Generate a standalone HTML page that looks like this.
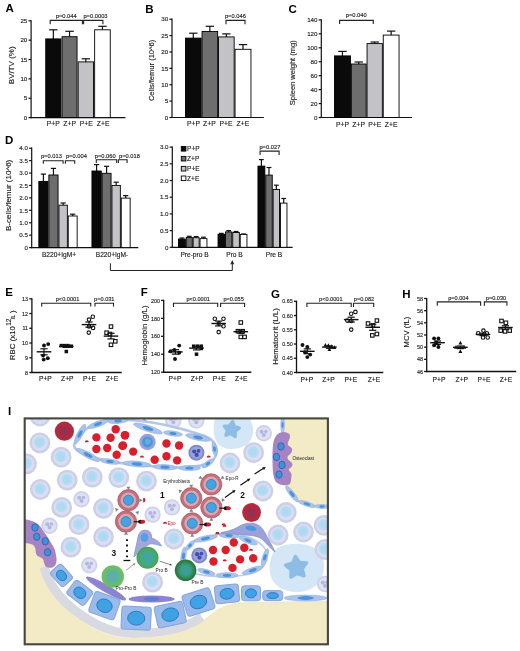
<!DOCTYPE html>
<html><head><meta charset="utf-8"><title>Figure</title>
<style>
html,body{margin:0;padding:0;background:#fff;}
body{width:520px;height:651px;overflow:hidden;}
svg{display:block;font-family:"Liberation Sans", sans-serif;will-change:transform;}
</style></head><body>
<svg width="520" height="651" viewBox="0 0 520 651">
<text x="5.50" y="12.10" font-size="11.5" font-weight="bold" fill="#000">A</text>
<line x1="31.10" y1="118.20" x2="31.10" y2="20.20" stroke="#111" stroke-width="1.2"/>
<line x1="28.50" y1="117.60" x2="31.10" y2="117.60" stroke="#111" stroke-width="1.2"/>
<text x="27.30" y="119.83" font-size="6.2" text-anchor="end" fill="#1c1c1c" stroke="#1c1c1c" stroke-width="0.14">0</text>
<line x1="28.50" y1="98.24" x2="31.10" y2="98.24" stroke="#111" stroke-width="1.2"/>
<text x="27.30" y="100.47" font-size="6.2" text-anchor="end" fill="#1c1c1c" stroke="#1c1c1c" stroke-width="0.14">5</text>
<line x1="28.50" y1="78.88" x2="31.10" y2="78.88" stroke="#111" stroke-width="1.2"/>
<text x="27.30" y="81.11" font-size="6.2" text-anchor="end" fill="#1c1c1c" stroke="#1c1c1c" stroke-width="0.14">10</text>
<line x1="28.50" y1="59.52" x2="31.10" y2="59.52" stroke="#111" stroke-width="1.2"/>
<text x="27.30" y="61.75" font-size="6.2" text-anchor="end" fill="#1c1c1c" stroke="#1c1c1c" stroke-width="0.14">15</text>
<line x1="28.50" y1="40.16" x2="31.10" y2="40.16" stroke="#111" stroke-width="1.2"/>
<text x="27.30" y="42.39" font-size="6.2" text-anchor="end" fill="#1c1c1c" stroke="#1c1c1c" stroke-width="0.14">20</text>
<line x1="28.50" y1="20.80" x2="31.10" y2="20.80" stroke="#111" stroke-width="1.2"/>
<text x="27.30" y="23.03" font-size="6.2" text-anchor="end" fill="#1c1c1c" stroke="#1c1c1c" stroke-width="0.14">25</text>
<line x1="30.50" y1="117.60" x2="125.40" y2="117.60" stroke="#111" stroke-width="1.2"/>
<line x1="53.35" y1="38.90" x2="53.35" y2="29.80" stroke="#111" stroke-width="1.2"/>
<line x1="49.15" y1="29.80" x2="57.55" y2="29.80" stroke="#111" stroke-width="1.2"/>
<rect x="45.75" y="38.90" width="15.20" height="78.70" fill="#0a0a0a" stroke="#000" stroke-width="0.9"/>
<line x1="69.55" y1="36.70" x2="69.55" y2="31.30" stroke="#111" stroke-width="1.2"/>
<line x1="65.35" y1="31.30" x2="73.75" y2="31.30" stroke="#111" stroke-width="1.2"/>
<rect x="62.05" y="36.70" width="15.00" height="80.90" fill="#6e6e6e" stroke="#000" stroke-width="0.9"/>
<line x1="85.80" y1="61.90" x2="85.80" y2="58.80" stroke="#111" stroke-width="1.2"/>
<line x1="81.60" y1="58.80" x2="90.00" y2="58.80" stroke="#111" stroke-width="1.2"/>
<rect x="78.15" y="61.90" width="15.30" height="55.70" fill="#c3c3c7" stroke="#000" stroke-width="0.9"/>
<line x1="102.45" y1="29.80" x2="102.45" y2="26.30" stroke="#111" stroke-width="1.2"/>
<line x1="98.25" y1="26.30" x2="106.65" y2="26.30" stroke="#111" stroke-width="1.2"/>
<rect x="94.65" y="29.80" width="15.60" height="87.80" fill="#ffffff" stroke="#000" stroke-width="0.9"/>
<path d="M50.20 24.20V20.40H82.40V24.20" fill="none" stroke="#222" stroke-width="1.1"/>
<path d="M83.60 24.20V20.40H102.90V24.20" fill="none" stroke="#222" stroke-width="1.1"/>
<text x="66.20" y="18.30" font-size="5.75" text-anchor="middle" fill="#1c1c1c" stroke="#1c1c1c" stroke-width="0.14">p=0.044</text>
<text x="95.50" y="18.30" font-size="5.75" text-anchor="middle" fill="#1c1c1c" stroke="#1c1c1c" stroke-width="0.14">p=0.0003</text>
<text x="53.20" y="125.60" font-size="6.8" text-anchor="middle" fill="#1a1a1a" stroke="#1a1a1a" stroke-width="0.14">P+P</text>
<text x="69.60" y="125.60" font-size="6.8" text-anchor="middle" fill="#1a1a1a" stroke="#1a1a1a" stroke-width="0.14">Z+P</text>
<text x="86.20" y="125.60" font-size="6.8" text-anchor="middle" fill="#1a1a1a" stroke="#1a1a1a" stroke-width="0.14">P+E</text>
<text x="103.10" y="125.60" font-size="6.8" text-anchor="middle" fill="#1a1a1a" stroke="#1a1a1a" stroke-width="0.14">Z+E</text>
<text x="13.70" y="65.30" font-size="8.0" text-anchor="middle" fill="#222" stroke="#222" stroke-width="0.14" transform="rotate(-90 13.70 65.30)">BV/TV (%)</text>
<text x="145.20" y="12.50" font-size="11.5" font-weight="bold" fill="#000">B</text>
<line x1="172.00" y1="118.10" x2="172.00" y2="18.60" stroke="#111" stroke-width="1.2"/>
<line x1="169.40" y1="117.50" x2="172.00" y2="117.50" stroke="#111" stroke-width="1.2"/>
<text x="168.20" y="119.73" font-size="6.2" text-anchor="end" fill="#1c1c1c" stroke="#1c1c1c" stroke-width="0.14">0</text>
<line x1="169.40" y1="101.12" x2="172.00" y2="101.12" stroke="#111" stroke-width="1.2"/>
<text x="168.20" y="103.35" font-size="6.2" text-anchor="end" fill="#1c1c1c" stroke="#1c1c1c" stroke-width="0.14">5</text>
<line x1="169.40" y1="84.73" x2="172.00" y2="84.73" stroke="#111" stroke-width="1.2"/>
<text x="168.20" y="86.97" font-size="6.2" text-anchor="end" fill="#1c1c1c" stroke="#1c1c1c" stroke-width="0.14">10</text>
<line x1="169.40" y1="68.35" x2="172.00" y2="68.35" stroke="#111" stroke-width="1.2"/>
<text x="168.20" y="70.58" font-size="6.2" text-anchor="end" fill="#1c1c1c" stroke="#1c1c1c" stroke-width="0.14">15</text>
<line x1="169.40" y1="51.97" x2="172.00" y2="51.97" stroke="#111" stroke-width="1.2"/>
<text x="168.20" y="54.20" font-size="6.2" text-anchor="end" fill="#1c1c1c" stroke="#1c1c1c" stroke-width="0.14">20</text>
<line x1="169.40" y1="35.58" x2="172.00" y2="35.58" stroke="#111" stroke-width="1.2"/>
<text x="168.20" y="37.82" font-size="6.2" text-anchor="end" fill="#1c1c1c" stroke="#1c1c1c" stroke-width="0.14">25</text>
<line x1="169.40" y1="19.20" x2="172.00" y2="19.20" stroke="#111" stroke-width="1.2"/>
<text x="168.20" y="21.43" font-size="6.2" text-anchor="end" fill="#1c1c1c" stroke="#1c1c1c" stroke-width="0.14">30</text>
<line x1="171.50" y1="117.50" x2="263.80" y2="117.50" stroke="#111" stroke-width="1.2"/>
<line x1="193.30" y1="38.10" x2="193.30" y2="33.20" stroke="#111" stroke-width="1.2"/>
<line x1="189.10" y1="33.20" x2="197.50" y2="33.20" stroke="#111" stroke-width="1.2"/>
<rect x="185.45" y="38.10" width="15.70" height="79.40" fill="#0a0a0a" stroke="#000" stroke-width="0.9"/>
<line x1="209.85" y1="31.50" x2="209.85" y2="26.30" stroke="#111" stroke-width="1.2"/>
<line x1="205.65" y1="26.30" x2="214.05" y2="26.30" stroke="#111" stroke-width="1.2"/>
<rect x="202.05" y="31.50" width="15.60" height="86.00" fill="#6e6e6e" stroke="#000" stroke-width="0.9"/>
<line x1="226.35" y1="36.90" x2="226.35" y2="33.90" stroke="#111" stroke-width="1.2"/>
<line x1="222.15" y1="33.90" x2="230.55" y2="33.90" stroke="#111" stroke-width="1.2"/>
<rect x="218.55" y="36.90" width="15.60" height="80.60" fill="#c3c3c7" stroke="#000" stroke-width="0.9"/>
<line x1="243.00" y1="49.30" x2="243.00" y2="44.60" stroke="#111" stroke-width="1.2"/>
<line x1="238.80" y1="44.60" x2="247.20" y2="44.60" stroke="#111" stroke-width="1.2"/>
<rect x="235.05" y="49.30" width="15.90" height="68.20" fill="#ffffff" stroke="#000" stroke-width="0.9"/>
<path d="M226.00 24.20V20.40H245.00V24.20" fill="none" stroke="#222" stroke-width="1.1"/>
<text x="235.40" y="18.20" font-size="5.75" text-anchor="middle" fill="#1c1c1c" stroke="#1c1c1c" stroke-width="0.14">p=0.046</text>
<text x="193.40" y="125.60" font-size="6.8" text-anchor="middle" fill="#1a1a1a" stroke="#1a1a1a" stroke-width="0.14">P+P</text>
<text x="209.40" y="125.60" font-size="6.8" text-anchor="middle" fill="#1a1a1a" stroke="#1a1a1a" stroke-width="0.14">Z+P</text>
<text x="226.00" y="125.60" font-size="6.8" text-anchor="middle" fill="#1a1a1a" stroke="#1a1a1a" stroke-width="0.14">P+E</text>
<text x="242.90" y="125.60" font-size="6.8" text-anchor="middle" fill="#1a1a1a" stroke="#1a1a1a" stroke-width="0.14">Z+E</text>
<text x="154.40" y="70.40" font-size="7.55" text-anchor="middle" fill="#222" stroke="#222" stroke-width="0.14" transform="rotate(-90 154.40 70.40)">Cells/femur (10^6)</text>
<text x="288.60" y="13.40" font-size="11.5" font-weight="bold" fill="#000">C</text>
<line x1="321.30" y1="118.10" x2="321.30" y2="19.30" stroke="#111" stroke-width="1.2"/>
<line x1="318.70" y1="117.50" x2="321.30" y2="117.50" stroke="#111" stroke-width="1.2"/>
<text x="317.50" y="119.73" font-size="6.2" text-anchor="end" fill="#1c1c1c" stroke="#1c1c1c" stroke-width="0.14">0</text>
<line x1="318.70" y1="103.56" x2="321.30" y2="103.56" stroke="#111" stroke-width="1.2"/>
<text x="317.50" y="105.79" font-size="6.2" text-anchor="end" fill="#1c1c1c" stroke="#1c1c1c" stroke-width="0.14">20</text>
<line x1="318.70" y1="89.61" x2="321.30" y2="89.61" stroke="#111" stroke-width="1.2"/>
<text x="317.50" y="91.85" font-size="6.2" text-anchor="end" fill="#1c1c1c" stroke="#1c1c1c" stroke-width="0.14">40</text>
<line x1="318.70" y1="75.67" x2="321.30" y2="75.67" stroke="#111" stroke-width="1.2"/>
<text x="317.50" y="77.90" font-size="6.2" text-anchor="end" fill="#1c1c1c" stroke="#1c1c1c" stroke-width="0.14">60</text>
<line x1="318.70" y1="61.73" x2="321.30" y2="61.73" stroke="#111" stroke-width="1.2"/>
<text x="317.50" y="63.96" font-size="6.2" text-anchor="end" fill="#1c1c1c" stroke="#1c1c1c" stroke-width="0.14">80</text>
<line x1="318.70" y1="47.79" x2="321.30" y2="47.79" stroke="#111" stroke-width="1.2"/>
<text x="317.50" y="50.02" font-size="6.2" text-anchor="end" fill="#1c1c1c" stroke="#1c1c1c" stroke-width="0.14">100</text>
<line x1="318.70" y1="33.84" x2="321.30" y2="33.84" stroke="#111" stroke-width="1.2"/>
<text x="317.50" y="36.07" font-size="6.2" text-anchor="end" fill="#1c1c1c" stroke="#1c1c1c" stroke-width="0.14">120</text>
<line x1="318.70" y1="19.90" x2="321.30" y2="19.90" stroke="#111" stroke-width="1.2"/>
<text x="317.50" y="22.13" font-size="6.2" text-anchor="end" fill="#1c1c1c" stroke="#1c1c1c" stroke-width="0.14">140</text>
<line x1="320.80" y1="117.50" x2="412.00" y2="117.50" stroke="#111" stroke-width="1.2"/>
<line x1="342.45" y1="55.90" x2="342.45" y2="51.40" stroke="#111" stroke-width="1.2"/>
<line x1="338.25" y1="51.40" x2="346.65" y2="51.40" stroke="#111" stroke-width="1.2"/>
<rect x="334.45" y="55.90" width="16.00" height="61.60" fill="#0a0a0a" stroke="#000" stroke-width="0.9"/>
<line x1="358.75" y1="64.00" x2="358.75" y2="62.00" stroke="#111" stroke-width="1.2"/>
<line x1="354.55" y1="62.00" x2="362.95" y2="62.00" stroke="#111" stroke-width="1.2"/>
<rect x="351.35" y="64.00" width="14.80" height="53.50" fill="#6e6e6e" stroke="#000" stroke-width="0.9"/>
<line x1="374.70" y1="43.60" x2="374.70" y2="42.00" stroke="#111" stroke-width="1.2"/>
<line x1="370.50" y1="42.00" x2="378.90" y2="42.00" stroke="#111" stroke-width="1.2"/>
<rect x="367.05" y="43.60" width="15.30" height="73.90" fill="#c3c3c7" stroke="#000" stroke-width="0.9"/>
<line x1="391.15" y1="35.10" x2="391.15" y2="31.10" stroke="#111" stroke-width="1.2"/>
<line x1="386.95" y1="31.10" x2="395.35" y2="31.10" stroke="#111" stroke-width="1.2"/>
<rect x="383.25" y="35.10" width="15.80" height="82.40" fill="#ffffff" stroke="#000" stroke-width="0.9"/>
<path d="M339.60 23.90V20.40H373.30V23.90" fill="none" stroke="#222" stroke-width="1.1"/>
<text x="356.20" y="17.40" font-size="5.75" text-anchor="middle" fill="#1c1c1c" stroke="#1c1c1c" stroke-width="0.14">p=0.040</text>
<text x="342.40" y="126.60" font-size="6.8" text-anchor="middle" fill="#1a1a1a" stroke="#1a1a1a" stroke-width="0.14">P+P</text>
<text x="358.70" y="126.60" font-size="6.8" text-anchor="middle" fill="#1a1a1a" stroke="#1a1a1a" stroke-width="0.14">Z+P</text>
<text x="374.70" y="126.60" font-size="6.8" text-anchor="middle" fill="#1a1a1a" stroke="#1a1a1a" stroke-width="0.14">P+E</text>
<text x="391.20" y="126.60" font-size="6.8" text-anchor="middle" fill="#1a1a1a" stroke="#1a1a1a" stroke-width="0.14">Z+E</text>
<text x="294.60" y="72.70" font-size="7.55" text-anchor="middle" fill="#222" stroke="#222" stroke-width="0.14" transform="rotate(-90 294.60 72.70)">Spleen weight (mg)</text>
<text x="5.00" y="143.80" font-size="11.5" font-weight="bold" fill="#000">D</text>
<line x1="31.70" y1="248.20" x2="31.70" y2="147.60" stroke="#111" stroke-width="1.2"/>
<line x1="29.10" y1="247.60" x2="31.70" y2="247.60" stroke="#111" stroke-width="1.2"/>
<text x="27.90" y="249.83" font-size="6.2" text-anchor="end" fill="#1c1c1c" stroke="#1c1c1c" stroke-width="0.14">0</text>
<line x1="29.10" y1="235.17" x2="31.70" y2="235.17" stroke="#111" stroke-width="1.2"/>
<text x="27.90" y="237.41" font-size="6.2" text-anchor="end" fill="#1c1c1c" stroke="#1c1c1c" stroke-width="0.14">0.5</text>
<line x1="29.10" y1="222.75" x2="31.70" y2="222.75" stroke="#111" stroke-width="1.2"/>
<text x="27.90" y="224.98" font-size="6.2" text-anchor="end" fill="#1c1c1c" stroke="#1c1c1c" stroke-width="0.14">1.0</text>
<line x1="29.10" y1="210.32" x2="31.70" y2="210.32" stroke="#111" stroke-width="1.2"/>
<text x="27.90" y="212.56" font-size="6.2" text-anchor="end" fill="#1c1c1c" stroke="#1c1c1c" stroke-width="0.14">1.5</text>
<line x1="29.10" y1="197.90" x2="31.70" y2="197.90" stroke="#111" stroke-width="1.2"/>
<text x="27.90" y="200.13" font-size="6.2" text-anchor="end" fill="#1c1c1c" stroke="#1c1c1c" stroke-width="0.14">2.0</text>
<line x1="29.10" y1="185.47" x2="31.70" y2="185.47" stroke="#111" stroke-width="1.2"/>
<text x="27.90" y="187.71" font-size="6.2" text-anchor="end" fill="#1c1c1c" stroke="#1c1c1c" stroke-width="0.14">2.5</text>
<line x1="29.10" y1="173.05" x2="31.70" y2="173.05" stroke="#111" stroke-width="1.2"/>
<text x="27.90" y="175.28" font-size="6.2" text-anchor="end" fill="#1c1c1c" stroke="#1c1c1c" stroke-width="0.14">3.0</text>
<line x1="29.10" y1="160.62" x2="31.70" y2="160.62" stroke="#111" stroke-width="1.2"/>
<text x="27.90" y="162.86" font-size="6.2" text-anchor="end" fill="#1c1c1c" stroke="#1c1c1c" stroke-width="0.14">3.5</text>
<line x1="29.10" y1="148.20" x2="31.70" y2="148.20" stroke="#111" stroke-width="1.2"/>
<text x="27.90" y="150.43" font-size="6.2" text-anchor="end" fill="#1c1c1c" stroke="#1c1c1c" stroke-width="0.14">4.0</text>
<line x1="31.20" y1="247.60" x2="138.30" y2="247.60" stroke="#111" stroke-width="1.2"/>
<line x1="43.40" y1="181.40" x2="43.40" y2="174.10" stroke="#111" stroke-width="1.2"/>
<line x1="40.80" y1="174.10" x2="46.00" y2="174.10" stroke="#111" stroke-width="1.2"/>
<rect x="38.85" y="181.40" width="9.10" height="66.20" fill="#0a0a0a" stroke="#000" stroke-width="0.9"/>
<line x1="53.45" y1="175.00" x2="53.45" y2="168.40" stroke="#111" stroke-width="1.2"/>
<line x1="50.85" y1="168.40" x2="56.05" y2="168.40" stroke="#111" stroke-width="1.2"/>
<rect x="48.85" y="175.00" width="9.20" height="72.60" fill="#6e6e6e" stroke="#000" stroke-width="0.9"/>
<line x1="63.15" y1="205.20" x2="63.15" y2="203.00" stroke="#111" stroke-width="1.2"/>
<line x1="60.55" y1="203.00" x2="65.75" y2="203.00" stroke="#111" stroke-width="1.2"/>
<rect x="58.95" y="205.20" width="8.40" height="42.40" fill="#c3c3c7" stroke="#000" stroke-width="0.9"/>
<line x1="72.70" y1="216.00" x2="72.70" y2="214.20" stroke="#111" stroke-width="1.2"/>
<line x1="70.10" y1="214.20" x2="75.30" y2="214.20" stroke="#111" stroke-width="1.2"/>
<rect x="68.25" y="216.00" width="8.90" height="31.60" fill="#ffffff" stroke="#000" stroke-width="0.9"/>
<line x1="96.60" y1="171.00" x2="96.60" y2="164.60" stroke="#111" stroke-width="1.2"/>
<line x1="94.00" y1="164.60" x2="99.20" y2="164.60" stroke="#111" stroke-width="1.2"/>
<rect x="91.95" y="171.00" width="9.30" height="76.60" fill="#0a0a0a" stroke="#000" stroke-width="0.9"/>
<line x1="106.60" y1="173.30" x2="106.60" y2="166.30" stroke="#111" stroke-width="1.2"/>
<line x1="104.00" y1="166.30" x2="109.20" y2="166.30" stroke="#111" stroke-width="1.2"/>
<rect x="102.15" y="173.30" width="8.90" height="74.30" fill="#6e6e6e" stroke="#000" stroke-width="0.9"/>
<line x1="116.15" y1="185.40" x2="116.15" y2="182.20" stroke="#111" stroke-width="1.2"/>
<line x1="113.55" y1="182.20" x2="118.75" y2="182.20" stroke="#111" stroke-width="1.2"/>
<rect x="111.95" y="185.40" width="8.40" height="62.20" fill="#c3c3c7" stroke="#000" stroke-width="0.9"/>
<line x1="125.70" y1="198.10" x2="125.70" y2="195.60" stroke="#111" stroke-width="1.2"/>
<line x1="123.10" y1="195.60" x2="128.30" y2="195.60" stroke="#111" stroke-width="1.2"/>
<rect x="121.25" y="198.10" width="8.90" height="49.50" fill="#ffffff" stroke="#000" stroke-width="0.9"/>
<path d="M43.30 163.80V160.80H63.10V163.80" fill="none" stroke="#222" stroke-width="1.1"/>
<path d="M65.40 163.80V160.80H74.70V163.80" fill="none" stroke="#222" stroke-width="1.1"/>
<path d="M96.30 163.00V159.80H116.70V163.00" fill="none" stroke="#222" stroke-width="1.1"/>
<path d="M118.40 163.00V159.80H127.10V163.00" fill="none" stroke="#222" stroke-width="1.1"/>
<text x="51.40" y="158.00" font-size="5.75" text-anchor="middle" fill="#1c1c1c" stroke="#1c1c1c" stroke-width="0.14">p=0.013</text>
<text x="76.40" y="158.00" font-size="5.75" text-anchor="middle" fill="#1c1c1c" stroke="#1c1c1c" stroke-width="0.14">p=0.004</text>
<text x="105.20" y="157.80" font-size="5.75" text-anchor="middle" fill="#1c1c1c" stroke="#1c1c1c" stroke-width="0.14">p=0.060</text>
<text x="129.50" y="157.80" font-size="5.75" text-anchor="middle" fill="#1c1c1c" stroke="#1c1c1c" stroke-width="0.14">p=0.018</text>
<text x="59.00" y="257.30" font-size="6.6" text-anchor="middle" fill="#1a1a1a" stroke="#1a1a1a" stroke-width="0.14">B220+IgM+</text>
<text x="112.00" y="257.30" font-size="6.6" text-anchor="middle" fill="#1a1a1a" stroke="#1a1a1a" stroke-width="0.14">B220+IgM-</text>
<text x="10.70" y="195.40" font-size="8.0" text-anchor="middle" fill="#222" stroke="#222" stroke-width="0.14" transform="rotate(-90 10.70 195.40)">B-cells/femur (10^6)</text>
<line x1="172.30" y1="247.90" x2="172.30" y2="146.50" stroke="#111" stroke-width="1.2"/>
<line x1="169.70" y1="247.30" x2="172.30" y2="247.30" stroke="#111" stroke-width="1.2"/>
<text x="168.50" y="249.53" font-size="6.2" text-anchor="end" fill="#1c1c1c" stroke="#1c1c1c" stroke-width="0.14">0</text>
<line x1="169.70" y1="230.60" x2="172.30" y2="230.60" stroke="#111" stroke-width="1.2"/>
<text x="168.50" y="232.83" font-size="6.2" text-anchor="end" fill="#1c1c1c" stroke="#1c1c1c" stroke-width="0.14">0.5</text>
<line x1="169.70" y1="213.90" x2="172.30" y2="213.90" stroke="#111" stroke-width="1.2"/>
<text x="168.50" y="216.13" font-size="6.2" text-anchor="end" fill="#1c1c1c" stroke="#1c1c1c" stroke-width="0.14">1.0</text>
<line x1="169.70" y1="197.20" x2="172.30" y2="197.20" stroke="#111" stroke-width="1.2"/>
<text x="168.50" y="199.43" font-size="6.2" text-anchor="end" fill="#1c1c1c" stroke="#1c1c1c" stroke-width="0.14">1.5</text>
<line x1="169.70" y1="180.50" x2="172.30" y2="180.50" stroke="#111" stroke-width="1.2"/>
<text x="168.50" y="182.73" font-size="6.2" text-anchor="end" fill="#1c1c1c" stroke="#1c1c1c" stroke-width="0.14">2.0</text>
<line x1="169.70" y1="163.80" x2="172.30" y2="163.80" stroke="#111" stroke-width="1.2"/>
<text x="168.50" y="166.03" font-size="6.2" text-anchor="end" fill="#1c1c1c" stroke="#1c1c1c" stroke-width="0.14">2.5</text>
<line x1="169.70" y1="147.10" x2="172.30" y2="147.10" stroke="#111" stroke-width="1.2"/>
<text x="168.50" y="149.33" font-size="6.2" text-anchor="end" fill="#1c1c1c" stroke="#1c1c1c" stroke-width="0.14">3.0</text>
<line x1="171.80" y1="247.30" x2="292.60" y2="247.30" stroke="#111" stroke-width="1.2"/>
<line x1="181.90" y1="239.10" x2="181.90" y2="238.00" stroke="#111" stroke-width="1.2"/>
<line x1="179.50" y1="238.00" x2="184.30" y2="238.00" stroke="#111" stroke-width="1.2"/>
<rect x="178.45" y="239.10" width="6.90" height="8.20" fill="#0a0a0a" stroke="#000" stroke-width="0.9"/>
<line x1="189.25" y1="237.40" x2="189.25" y2="236.30" stroke="#111" stroke-width="1.2"/>
<line x1="186.85" y1="236.30" x2="191.65" y2="236.30" stroke="#111" stroke-width="1.2"/>
<rect x="186.25" y="237.40" width="6.00" height="9.90" fill="#6e6e6e" stroke="#000" stroke-width="0.9"/>
<line x1="196.15" y1="237.70" x2="196.15" y2="236.60" stroke="#111" stroke-width="1.2"/>
<line x1="193.75" y1="236.60" x2="198.55" y2="236.60" stroke="#111" stroke-width="1.2"/>
<rect x="193.15" y="237.70" width="6.00" height="9.60" fill="#c3c3c7" stroke="#000" stroke-width="0.9"/>
<line x1="203.50" y1="238.60" x2="203.50" y2="237.20" stroke="#111" stroke-width="1.2"/>
<line x1="201.10" y1="237.20" x2="205.90" y2="237.20" stroke="#111" stroke-width="1.2"/>
<rect x="200.05" y="238.60" width="6.90" height="8.70" fill="#ffffff" stroke="#000" stroke-width="0.9"/>
<line x1="221.30" y1="234.30" x2="221.30" y2="233.40" stroke="#111" stroke-width="1.2"/>
<line x1="218.90" y1="233.40" x2="223.70" y2="233.40" stroke="#111" stroke-width="1.2"/>
<rect x="218.05" y="234.30" width="6.50" height="13.00" fill="#0a0a0a" stroke="#000" stroke-width="0.9"/>
<line x1="228.65" y1="231.90" x2="228.65" y2="230.60" stroke="#111" stroke-width="1.2"/>
<line x1="226.25" y1="230.60" x2="231.05" y2="230.60" stroke="#111" stroke-width="1.2"/>
<rect x="225.45" y="231.90" width="6.40" height="15.40" fill="#6e6e6e" stroke="#000" stroke-width="0.9"/>
<line x1="236.05" y1="232.50" x2="236.05" y2="231.50" stroke="#111" stroke-width="1.2"/>
<line x1="233.65" y1="231.50" x2="238.45" y2="231.50" stroke="#111" stroke-width="1.2"/>
<rect x="232.75" y="232.50" width="6.60" height="14.80" fill="#c3c3c7" stroke="#000" stroke-width="0.9"/>
<line x1="243.60" y1="234.40" x2="243.60" y2="234.00" stroke="#111" stroke-width="1.2"/>
<line x1="241.20" y1="234.00" x2="246.00" y2="234.00" stroke="#111" stroke-width="1.2"/>
<rect x="240.25" y="234.40" width="6.70" height="12.90" fill="#ffffff" stroke="#000" stroke-width="0.9"/>
<line x1="261.40" y1="166.10" x2="261.40" y2="159.60" stroke="#111" stroke-width="1.2"/>
<line x1="259.00" y1="159.60" x2="263.80" y2="159.60" stroke="#111" stroke-width="1.2"/>
<rect x="257.95" y="166.10" width="6.90" height="81.20" fill="#0a0a0a" stroke="#000" stroke-width="0.9"/>
<line x1="269.00" y1="175.10" x2="269.00" y2="167.50" stroke="#111" stroke-width="1.2"/>
<line x1="266.60" y1="167.50" x2="271.40" y2="167.50" stroke="#111" stroke-width="1.2"/>
<rect x="265.75" y="175.10" width="6.50" height="72.20" fill="#6e6e6e" stroke="#000" stroke-width="0.9"/>
<line x1="276.35" y1="189.50" x2="276.35" y2="185.20" stroke="#111" stroke-width="1.2"/>
<line x1="273.95" y1="185.20" x2="278.75" y2="185.20" stroke="#111" stroke-width="1.2"/>
<rect x="273.15" y="189.50" width="6.40" height="57.80" fill="#c3c3c7" stroke="#000" stroke-width="0.9"/>
<line x1="283.70" y1="203.10" x2="283.70" y2="198.50" stroke="#111" stroke-width="1.2"/>
<line x1="281.30" y1="198.50" x2="286.10" y2="198.50" stroke="#111" stroke-width="1.2"/>
<rect x="280.45" y="203.10" width="6.50" height="44.20" fill="#ffffff" stroke="#000" stroke-width="0.9"/>
<path d="M260.10 154.90V151.10H279.10V154.90" fill="none" stroke="#222" stroke-width="1.1"/>
<text x="269.90" y="148.80" font-size="5.75" text-anchor="middle" fill="#1c1c1c" stroke="#1c1c1c" stroke-width="0.14">p=0.027</text>
<rect x="181.30" y="146.50" width="4.60" height="4.60" fill="#0a0a0a" stroke="#000" stroke-width="0.9"/>
<text x="187.00" y="151.20" font-size="6.6" fill="#1a1a1a" stroke="#1a1a1a" stroke-width="0.14">P+P</text>
<rect x="181.30" y="156.40" width="4.60" height="4.60" fill="#6e6e6e" stroke="#000" stroke-width="0.9"/>
<text x="187.00" y="161.10" font-size="6.6" fill="#1a1a1a" stroke="#1a1a1a" stroke-width="0.14">Z+P</text>
<rect x="181.30" y="166.40" width="4.60" height="4.60" fill="#c3c3c7" stroke="#000" stroke-width="0.9"/>
<text x="187.00" y="171.10" font-size="6.6" fill="#1a1a1a" stroke="#1a1a1a" stroke-width="0.14">P+E</text>
<rect x="181.30" y="176.00" width="4.60" height="4.60" fill="#ffffff" stroke="#000" stroke-width="0.9"/>
<text x="187.00" y="180.70" font-size="6.6" fill="#1a1a1a" stroke="#1a1a1a" stroke-width="0.14">Z+E</text>
<text x="194.50" y="257.30" font-size="6.6" text-anchor="middle" fill="#1a1a1a" stroke="#1a1a1a" stroke-width="0.14">Pre-pro B</text>
<text x="234.50" y="257.30" font-size="6.6" text-anchor="middle" fill="#1a1a1a" stroke="#1a1a1a" stroke-width="0.14">Pro B</text>
<text x="274.00" y="257.30" font-size="6.6" text-anchor="middle" fill="#1a1a1a" stroke="#1a1a1a" stroke-width="0.14">Pre B</text>
<path d="M110.4 263.3V270.5H232.3V263.5" fill="none" stroke="#222" stroke-width="1"/>
<path d="M232.3 260.0L230.4 264.2H234.2Z" fill="#222"/>
<text x="5.30" y="295.80" font-size="11.5" font-weight="bold" fill="#000">E</text>
<line x1="31.90" y1="373.10" x2="31.90" y2="298.20" stroke="#111" stroke-width="1.3"/>
<line x1="29.30" y1="372.50" x2="31.90" y2="372.50" stroke="#111" stroke-width="1.3"/>
<text transform="translate(28.10 374.66) scale(0.9 1)" font-size="6.0" text-anchor="end" fill="#1c1c1c" stroke="#1c1c1c" stroke-width="0.14">8</text>
<line x1="29.30" y1="357.76" x2="31.90" y2="357.76" stroke="#111" stroke-width="1.3"/>
<text transform="translate(28.10 359.92) scale(0.9 1)" font-size="6.0" text-anchor="end" fill="#1c1c1c" stroke="#1c1c1c" stroke-width="0.14">9</text>
<line x1="29.30" y1="343.02" x2="31.90" y2="343.02" stroke="#111" stroke-width="1.3"/>
<text transform="translate(28.10 345.18) scale(0.9 1)" font-size="6.0" text-anchor="end" fill="#1c1c1c" stroke="#1c1c1c" stroke-width="0.14">10</text>
<line x1="29.30" y1="328.28" x2="31.90" y2="328.28" stroke="#111" stroke-width="1.3"/>
<text transform="translate(28.10 330.44) scale(0.9 1)" font-size="6.0" text-anchor="end" fill="#1c1c1c" stroke="#1c1c1c" stroke-width="0.14">11</text>
<line x1="29.30" y1="313.54" x2="31.90" y2="313.54" stroke="#111" stroke-width="1.3"/>
<text transform="translate(28.10 315.70) scale(0.9 1)" font-size="6.0" text-anchor="end" fill="#1c1c1c" stroke="#1c1c1c" stroke-width="0.14">12</text>
<line x1="29.30" y1="298.80" x2="31.90" y2="298.80" stroke="#111" stroke-width="1.3"/>
<text transform="translate(28.10 300.96) scale(0.9 1)" font-size="6.0" text-anchor="end" fill="#1c1c1c" stroke="#1c1c1c" stroke-width="0.14">13</text>
<line x1="31.30" y1="372.50" x2="121.70" y2="372.50" stroke="#111" stroke-width="1.5"/>
<path d="M41.70 306.60V303.20H90.70V306.60" fill="none" stroke="#222" stroke-width="1.1"/>
<path d="M95.00 306.60V303.20H113.50V306.60" fill="none" stroke="#222" stroke-width="1.1"/>
<text x="67.50" y="300.60" font-size="5.6" text-anchor="middle" fill="#1c1c1c" stroke="#1c1c1c" stroke-width="0.14">p&lt;0.0001</text>
<text x="104.30" y="300.60" font-size="5.6" text-anchor="middle" fill="#1c1c1c" stroke="#1c1c1c" stroke-width="0.14">p=0.031</text>
<circle cx="44.00" cy="345.50" r="1.95" fill="#111"/>
<circle cx="48.20" cy="344.10" r="1.95" fill="#111"/>
<circle cx="43.10" cy="355.60" r="1.95" fill="#111"/>
<circle cx="47.80" cy="358.30" r="1.95" fill="#111"/>
<circle cx="43.70" cy="359.60" r="1.95" fill="#111"/>
<line x1="36.70" y1="351.80" x2="51.30" y2="351.80" stroke="#111" stroke-width="1.4"/>
<line x1="40.40" y1="348.80" x2="47.60" y2="348.80" stroke="#111" stroke-width="1.2"/>
<line x1="40.40" y1="354.80" x2="47.60" y2="354.80" stroke="#111" stroke-width="1.2"/>
<line x1="44.00" y1="348.80" x2="44.00" y2="354.80" stroke="#111" stroke-width="1.2"/>
<rect x="59.55" y="343.85" width="3.50" height="3.50" fill="#111"/>
<rect x="62.75" y="343.85" width="3.50" height="3.50" fill="#111"/>
<rect x="66.15" y="343.85" width="3.50" height="3.50" fill="#111"/>
<rect x="69.55" y="344.45" width="3.50" height="3.50" fill="#111"/>
<rect x="64.55" y="349.75" width="3.50" height="3.50" fill="#111"/>
<line x1="59.00" y1="346.40" x2="73.60" y2="346.40" stroke="#111" stroke-width="1.4"/>
<line x1="62.70" y1="345.40" x2="69.90" y2="345.40" stroke="#111" stroke-width="1.2"/>
<line x1="62.70" y1="347.40" x2="69.90" y2="347.40" stroke="#111" stroke-width="1.2"/>
<line x1="66.30" y1="345.40" x2="66.30" y2="347.40" stroke="#111" stroke-width="1.2"/>
<circle cx="92.80" cy="316.70" r="1.75" fill="#fff" stroke="#111" stroke-width="1.1"/>
<circle cx="89.00" cy="319.60" r="1.75" fill="#fff" stroke="#111" stroke-width="1.1"/>
<circle cx="89.00" cy="326.50" r="1.75" fill="#fff" stroke="#111" stroke-width="1.1"/>
<circle cx="93.10" cy="327.90" r="1.75" fill="#fff" stroke="#111" stroke-width="1.1"/>
<circle cx="88.80" cy="332.60" r="1.75" fill="#fff" stroke="#111" stroke-width="1.1"/>
<line x1="81.70" y1="324.60" x2="96.30" y2="324.60" stroke="#111" stroke-width="1.4"/>
<line x1="85.40" y1="322.00" x2="92.60" y2="322.00" stroke="#111" stroke-width="1.2"/>
<line x1="85.40" y1="327.20" x2="92.60" y2="327.20" stroke="#111" stroke-width="1.2"/>
<line x1="89.00" y1="322.00" x2="89.00" y2="327.20" stroke="#111" stroke-width="1.2"/>
<rect x="109.25" y="324.85" width="3.50" height="3.50" fill="#fff" stroke="#111" stroke-width="1.1"/>
<rect x="104.85" y="330.95" width="3.50" height="3.50" fill="#fff" stroke="#111" stroke-width="1.1"/>
<rect x="108.25" y="332.25" width="3.50" height="3.50" fill="#fff" stroke="#111" stroke-width="1.1"/>
<rect x="113.55" y="339.55" width="3.50" height="3.50" fill="#fff" stroke="#111" stroke-width="1.1"/>
<rect x="109.25" y="343.05" width="3.50" height="3.50" fill="#fff" stroke="#111" stroke-width="1.1"/>
<line x1="103.70" y1="336.10" x2="118.30" y2="336.10" stroke="#111" stroke-width="1.4"/>
<line x1="107.40" y1="333.30" x2="114.60" y2="333.30" stroke="#111" stroke-width="1.2"/>
<line x1="107.40" y1="338.90" x2="114.60" y2="338.90" stroke="#111" stroke-width="1.2"/>
<line x1="111.00" y1="333.30" x2="111.00" y2="338.90" stroke="#111" stroke-width="1.2"/>
<text x="45.40" y="381.40" font-size="6.7" text-anchor="middle" fill="#1a1a1a" stroke="#1a1a1a" stroke-width="0.14">P+P</text>
<text x="67.30" y="381.40" font-size="6.7" text-anchor="middle" fill="#1a1a1a" stroke="#1a1a1a" stroke-width="0.14">Z+P</text>
<text x="89.50" y="381.40" font-size="6.7" text-anchor="middle" fill="#1a1a1a" stroke="#1a1a1a" stroke-width="0.14">P+E</text>
<text x="112.00" y="381.40" font-size="6.7" text-anchor="middle" fill="#1a1a1a" stroke="#1a1a1a" stroke-width="0.14">Z+E</text>
<text transform="translate(14.6 360.2) rotate(-90)" font-size="7.9" fill="#222" stroke="#222" stroke-width="0.14">RBC (x10</text>
<text transform="translate(10.9 325.8) rotate(-90)" font-size="6.6" fill="#222" stroke="#222" stroke-width="0.14">12</text>
<text transform="translate(15.3 319.2) rotate(-90)" font-size="5.2" fill="#222" stroke="#222" stroke-width="0.14">/L</text>
<text transform="translate(14.6 312.9) rotate(-90)" font-size="7.9" fill="#222" stroke="#222" stroke-width="0.14">)</text>
<text x="140.80" y="295.80" font-size="11.5" font-weight="bold" fill="#000">F</text>
<line x1="163.70" y1="372.80" x2="163.70" y2="299.80" stroke="#111" stroke-width="1.3"/>
<line x1="161.10" y1="372.20" x2="163.70" y2="372.20" stroke="#111" stroke-width="1.3"/>
<text transform="translate(159.90 374.36) scale(0.9 1)" font-size="6.0" text-anchor="end" fill="#1c1c1c" stroke="#1c1c1c" stroke-width="0.14">120</text>
<line x1="161.10" y1="354.25" x2="163.70" y2="354.25" stroke="#111" stroke-width="1.3"/>
<text transform="translate(159.90 356.41) scale(0.9 1)" font-size="6.0" text-anchor="end" fill="#1c1c1c" stroke="#1c1c1c" stroke-width="0.14">140</text>
<line x1="161.10" y1="336.30" x2="163.70" y2="336.30" stroke="#111" stroke-width="1.3"/>
<text transform="translate(159.90 338.46) scale(0.9 1)" font-size="6.0" text-anchor="end" fill="#1c1c1c" stroke="#1c1c1c" stroke-width="0.14">160</text>
<line x1="161.10" y1="318.35" x2="163.70" y2="318.35" stroke="#111" stroke-width="1.3"/>
<text transform="translate(159.90 320.51) scale(0.9 1)" font-size="6.0" text-anchor="end" fill="#1c1c1c" stroke="#1c1c1c" stroke-width="0.14">180</text>
<line x1="161.10" y1="300.40" x2="163.70" y2="300.40" stroke="#111" stroke-width="1.3"/>
<text transform="translate(159.90 302.56) scale(0.9 1)" font-size="6.0" text-anchor="end" fill="#1c1c1c" stroke="#1c1c1c" stroke-width="0.14">200</text>
<line x1="163.10" y1="372.20" x2="251.30" y2="372.20" stroke="#111" stroke-width="1.5"/>
<path d="M173.50 307.10V303.30H217.70V307.10" fill="none" stroke="#222" stroke-width="1.1"/>
<path d="M220.60 307.10V303.30H244.60V307.10" fill="none" stroke="#222" stroke-width="1.1"/>
<text x="198.20" y="300.80" font-size="5.6" text-anchor="middle" fill="#1c1c1c" stroke="#1c1c1c" stroke-width="0.14">p&lt;0.0001</text>
<text x="233.60" y="300.80" font-size="5.6" text-anchor="middle" fill="#1c1c1c" stroke="#1c1c1c" stroke-width="0.14">p=0.055</text>
<circle cx="179.20" cy="345.60" r="1.95" fill="#111"/>
<circle cx="174.40" cy="350.00" r="1.95" fill="#111"/>
<circle cx="170.60" cy="351.30" r="1.95" fill="#111"/>
<circle cx="179.20" cy="352.70" r="1.95" fill="#111"/>
<circle cx="175.00" cy="359.00" r="1.95" fill="#111"/>
<line x1="168.10" y1="351.90" x2="182.70" y2="351.90" stroke="#111" stroke-width="1.4"/>
<line x1="171.80" y1="349.70" x2="179.00" y2="349.70" stroke="#111" stroke-width="1.2"/>
<line x1="171.80" y1="354.10" x2="179.00" y2="354.10" stroke="#111" stroke-width="1.2"/>
<line x1="175.40" y1="349.70" x2="175.40" y2="354.10" stroke="#111" stroke-width="1.2"/>
<rect x="191.95" y="344.45" width="3.50" height="3.50" fill="#111"/>
<rect x="195.75" y="344.45" width="3.50" height="3.50" fill="#111"/>
<rect x="199.55" y="344.45" width="3.50" height="3.50" fill="#111"/>
<rect x="199.55" y="346.75" width="3.50" height="3.50" fill="#111"/>
<rect x="194.75" y="352.45" width="3.50" height="3.50" fill="#111"/>
<line x1="189.20" y1="348.10" x2="203.80" y2="348.10" stroke="#111" stroke-width="1.4"/>
<line x1="192.90" y1="346.30" x2="200.10" y2="346.30" stroke="#111" stroke-width="1.2"/>
<line x1="192.90" y1="349.90" x2="200.10" y2="349.90" stroke="#111" stroke-width="1.2"/>
<line x1="196.50" y1="346.30" x2="196.50" y2="349.90" stroke="#111" stroke-width="1.2"/>
<circle cx="214.80" cy="318.70" r="1.75" fill="#fff" stroke="#111" stroke-width="1.1"/>
<circle cx="223.50" cy="318.70" r="1.75" fill="#fff" stroke="#111" stroke-width="1.1"/>
<circle cx="218.70" cy="323.50" r="1.75" fill="#fff" stroke="#111" stroke-width="1.1"/>
<circle cx="223.50" cy="326.30" r="1.75" fill="#fff" stroke="#111" stroke-width="1.1"/>
<circle cx="218.70" cy="332.10" r="1.75" fill="#fff" stroke="#111" stroke-width="1.1"/>
<line x1="211.40" y1="323.50" x2="226.00" y2="323.50" stroke="#111" stroke-width="1.4"/>
<line x1="215.10" y1="321.10" x2="222.30" y2="321.10" stroke="#111" stroke-width="1.2"/>
<line x1="215.10" y1="325.90" x2="222.30" y2="325.90" stroke="#111" stroke-width="1.2"/>
<line x1="218.70" y1="321.10" x2="218.70" y2="325.90" stroke="#111" stroke-width="1.2"/>
<rect x="239.05" y="320.75" width="3.50" height="3.50" fill="#fff" stroke="#111" stroke-width="1.1"/>
<rect x="236.15" y="329.45" width="3.50" height="3.50" fill="#fff" stroke="#111" stroke-width="1.1"/>
<rect x="240.95" y="329.45" width="3.50" height="3.50" fill="#fff" stroke="#111" stroke-width="1.1"/>
<rect x="239.05" y="335.15" width="3.50" height="3.50" fill="#fff" stroke="#111" stroke-width="1.1"/>
<rect x="242.85" y="335.15" width="3.50" height="3.50" fill="#fff" stroke="#111" stroke-width="1.1"/>
<line x1="233.50" y1="331.70" x2="248.10" y2="331.70" stroke="#111" stroke-width="1.4"/>
<line x1="237.20" y1="330.10" x2="244.40" y2="330.10" stroke="#111" stroke-width="1.2"/>
<line x1="237.20" y1="333.30" x2="244.40" y2="333.30" stroke="#111" stroke-width="1.2"/>
<line x1="240.80" y1="330.10" x2="240.80" y2="333.30" stroke="#111" stroke-width="1.2"/>
<text x="175.00" y="381.30" font-size="6.7" text-anchor="middle" fill="#1a1a1a" stroke="#1a1a1a" stroke-width="0.14">P+P</text>
<text x="197.00" y="381.30" font-size="6.7" text-anchor="middle" fill="#1a1a1a" stroke="#1a1a1a" stroke-width="0.14">Z+P</text>
<text x="219.20" y="381.30" font-size="6.7" text-anchor="middle" fill="#1a1a1a" stroke="#1a1a1a" stroke-width="0.14">P+E</text>
<text x="241.30" y="381.30" font-size="6.7" text-anchor="middle" fill="#1a1a1a" stroke="#1a1a1a" stroke-width="0.14">Z+E</text>
<text x="146.80" y="335.50" font-size="7.85" text-anchor="middle" fill="#222" stroke="#222" stroke-width="0.14" transform="rotate(-90 146.80 335.50)">Hemoglobin (g/L)</text>
<text x="271.00" y="297.80" font-size="11.5" font-weight="bold" fill="#000">G</text>
<line x1="296.50" y1="373.10" x2="296.50" y2="300.70" stroke="#111" stroke-width="1.3"/>
<line x1="293.90" y1="372.50" x2="296.50" y2="372.50" stroke="#111" stroke-width="1.3"/>
<text transform="translate(292.70 374.66) scale(0.9 1)" font-size="6.0" text-anchor="end" fill="#1c1c1c" stroke="#1c1c1c" stroke-width="0.14">0.40</text>
<line x1="293.90" y1="358.26" x2="296.50" y2="358.26" stroke="#111" stroke-width="1.3"/>
<text transform="translate(292.70 360.42) scale(0.9 1)" font-size="6.0" text-anchor="end" fill="#1c1c1c" stroke="#1c1c1c" stroke-width="0.14">0.45</text>
<line x1="293.90" y1="344.02" x2="296.50" y2="344.02" stroke="#111" stroke-width="1.3"/>
<text transform="translate(292.70 346.18) scale(0.9 1)" font-size="6.0" text-anchor="end" fill="#1c1c1c" stroke="#1c1c1c" stroke-width="0.14">0.50</text>
<line x1="293.90" y1="329.78" x2="296.50" y2="329.78" stroke="#111" stroke-width="1.3"/>
<text transform="translate(292.70 331.94) scale(0.9 1)" font-size="6.0" text-anchor="end" fill="#1c1c1c" stroke="#1c1c1c" stroke-width="0.14">0.55</text>
<line x1="293.90" y1="315.54" x2="296.50" y2="315.54" stroke="#111" stroke-width="1.3"/>
<text transform="translate(292.70 317.70) scale(0.9 1)" font-size="6.0" text-anchor="end" fill="#1c1c1c" stroke="#1c1c1c" stroke-width="0.14">0.60</text>
<line x1="293.90" y1="301.30" x2="296.50" y2="301.30" stroke="#111" stroke-width="1.3"/>
<text transform="translate(292.70 303.46) scale(0.9 1)" font-size="6.0" text-anchor="end" fill="#1c1c1c" stroke="#1c1c1c" stroke-width="0.14">0.65</text>
<line x1="295.90" y1="372.50" x2="383.30" y2="372.50" stroke="#111" stroke-width="1.5"/>
<path d="M306.90 307.10V303.30H351.20V307.10" fill="none" stroke="#222" stroke-width="1.1"/>
<path d="M353.50 307.10V303.30H373.70V307.10" fill="none" stroke="#222" stroke-width="1.1"/>
<text x="330.80" y="300.80" font-size="5.6" text-anchor="middle" fill="#1c1c1c" stroke="#1c1c1c" stroke-width="0.14">p&lt;0.0001</text>
<text x="364.00" y="300.80" font-size="5.6" text-anchor="middle" fill="#1c1c1c" stroke="#1c1c1c" stroke-width="0.14">p=0.082</text>
<circle cx="302.50" cy="345.00" r="1.95" fill="#111"/>
<circle cx="307.30" cy="346.90" r="1.95" fill="#111"/>
<circle cx="305.00" cy="352.30" r="1.95" fill="#111"/>
<circle cx="310.20" cy="354.60" r="1.95" fill="#111"/>
<circle cx="307.30" cy="357.10" r="1.95" fill="#111"/>
<line x1="300.00" y1="351.30" x2="314.60" y2="351.30" stroke="#111" stroke-width="1.4"/>
<line x1="303.70" y1="348.90" x2="310.90" y2="348.90" stroke="#111" stroke-width="1.2"/>
<line x1="303.70" y1="353.70" x2="310.90" y2="353.70" stroke="#111" stroke-width="1.2"/>
<line x1="307.30" y1="348.90" x2="307.30" y2="353.70" stroke="#111" stroke-width="1.2"/>
<path d="M325.40 342.95L327.35 346.75H323.45Z" fill="#111"/>
<path d="M328.40 343.25L330.35 347.05H326.45Z" fill="#111"/>
<path d="M331.40 344.25L333.35 348.05H329.45Z" fill="#111"/>
<path d="M334.40 345.25L336.35 349.05H332.45Z" fill="#111"/>
<path d="M329.40 347.25L331.35 351.05H327.45Z" fill="#111"/>
<line x1="322.10" y1="347.10" x2="336.70" y2="347.10" stroke="#111" stroke-width="1.4"/>
<line x1="325.80" y1="345.90" x2="333.00" y2="345.90" stroke="#111" stroke-width="1.2"/>
<line x1="325.80" y1="348.30" x2="333.00" y2="348.30" stroke="#111" stroke-width="1.2"/>
<line x1="329.40" y1="345.90" x2="329.40" y2="348.30" stroke="#111" stroke-width="1.2"/>
<circle cx="355.40" cy="311.90" r="1.75" fill="#fff" stroke="#111" stroke-width="1.1"/>
<circle cx="351.20" cy="313.80" r="1.75" fill="#fff" stroke="#111" stroke-width="1.1"/>
<circle cx="347.30" cy="320.60" r="1.75" fill="#fff" stroke="#111" stroke-width="1.1"/>
<circle cx="351.20" cy="321.00" r="1.75" fill="#fff" stroke="#111" stroke-width="1.1"/>
<circle cx="351.20" cy="329.60" r="1.75" fill="#fff" stroke="#111" stroke-width="1.1"/>
<line x1="343.90" y1="319.60" x2="358.50" y2="319.60" stroke="#111" stroke-width="1.4"/>
<line x1="347.60" y1="317.20" x2="354.80" y2="317.20" stroke="#111" stroke-width="1.2"/>
<line x1="347.60" y1="322.00" x2="354.80" y2="322.00" stroke="#111" stroke-width="1.2"/>
<line x1="351.20" y1="317.20" x2="351.20" y2="322.00" stroke="#111" stroke-width="1.2"/>
<rect x="375.15" y="318.85" width="3.50" height="3.50" fill="#fff" stroke="#111" stroke-width="1.1"/>
<rect x="366.25" y="321.75" width="3.50" height="3.50" fill="#fff" stroke="#111" stroke-width="1.1"/>
<rect x="371.25" y="323.65" width="3.50" height="3.50" fill="#fff" stroke="#111" stroke-width="1.1"/>
<rect x="370.55" y="333.65" width="3.50" height="3.50" fill="#fff" stroke="#111" stroke-width="1.1"/>
<rect x="375.15" y="332.25" width="3.50" height="3.50" fill="#fff" stroke="#111" stroke-width="1.1"/>
<line x1="365.40" y1="327.30" x2="380.00" y2="327.30" stroke="#111" stroke-width="1.4"/>
<line x1="369.10" y1="324.30" x2="376.30" y2="324.30" stroke="#111" stroke-width="1.2"/>
<line x1="369.10" y1="330.30" x2="376.30" y2="330.30" stroke="#111" stroke-width="1.2"/>
<line x1="372.70" y1="324.30" x2="372.70" y2="330.30" stroke="#111" stroke-width="1.2"/>
<text x="306.80" y="381.60" font-size="6.7" text-anchor="middle" fill="#1a1a1a" stroke="#1a1a1a" stroke-width="0.14">P+P</text>
<text x="328.50" y="381.60" font-size="6.7" text-anchor="middle" fill="#1a1a1a" stroke="#1a1a1a" stroke-width="0.14">Z+P</text>
<text x="350.80" y="381.60" font-size="6.7" text-anchor="middle" fill="#1a1a1a" stroke="#1a1a1a" stroke-width="0.14">P+E</text>
<text x="374.00" y="381.60" font-size="6.7" text-anchor="middle" fill="#1a1a1a" stroke="#1a1a1a" stroke-width="0.14">Z+E</text>
<text x="278.40" y="336.50" font-size="7.9" text-anchor="middle" fill="#222" stroke="#222" stroke-width="0.14" transform="rotate(-90 278.40 336.50)">Hematocrit (L/L)</text>
<text x="402.30" y="297.90" font-size="11.5" font-weight="bold" fill="#000">H</text>
<line x1="426.70" y1="372.10" x2="426.70" y2="297.90" stroke="#111" stroke-width="1.3"/>
<line x1="424.10" y1="371.50" x2="426.70" y2="371.50" stroke="#111" stroke-width="1.3"/>
<text transform="translate(422.90 373.66) scale(0.9 1)" font-size="6.0" text-anchor="end" fill="#1c1c1c" stroke="#1c1c1c" stroke-width="0.14">46</text>
<line x1="424.10" y1="359.33" x2="426.70" y2="359.33" stroke="#111" stroke-width="1.3"/>
<text transform="translate(422.90 361.49) scale(0.9 1)" font-size="6.0" text-anchor="end" fill="#1c1c1c" stroke="#1c1c1c" stroke-width="0.14">48</text>
<line x1="424.10" y1="347.17" x2="426.70" y2="347.17" stroke="#111" stroke-width="1.3"/>
<text transform="translate(422.90 349.33) scale(0.9 1)" font-size="6.0" text-anchor="end" fill="#1c1c1c" stroke="#1c1c1c" stroke-width="0.14">50</text>
<line x1="424.10" y1="335.00" x2="426.70" y2="335.00" stroke="#111" stroke-width="1.3"/>
<text transform="translate(422.90 337.16) scale(0.9 1)" font-size="6.0" text-anchor="end" fill="#1c1c1c" stroke="#1c1c1c" stroke-width="0.14">52</text>
<line x1="424.10" y1="322.83" x2="426.70" y2="322.83" stroke="#111" stroke-width="1.3"/>
<text transform="translate(422.90 324.99) scale(0.9 1)" font-size="6.0" text-anchor="end" fill="#1c1c1c" stroke="#1c1c1c" stroke-width="0.14">54</text>
<line x1="424.10" y1="310.67" x2="426.70" y2="310.67" stroke="#111" stroke-width="1.3"/>
<text transform="translate(422.90 312.83) scale(0.9 1)" font-size="6.0" text-anchor="end" fill="#1c1c1c" stroke="#1c1c1c" stroke-width="0.14">56</text>
<line x1="424.10" y1="298.50" x2="426.70" y2="298.50" stroke="#111" stroke-width="1.3"/>
<text transform="translate(422.90 300.66) scale(0.9 1)" font-size="6.0" text-anchor="end" fill="#1c1c1c" stroke="#1c1c1c" stroke-width="0.14">58</text>
<line x1="426.10" y1="371.50" x2="516.20" y2="371.50" stroke="#111" stroke-width="1.5"/>
<path d="M437.30 305.80V301.90H480.60V305.80" fill="none" stroke="#222" stroke-width="1.1"/>
<path d="M484.40 305.80V301.90H506.90V305.80" fill="none" stroke="#222" stroke-width="1.1"/>
<text x="458.40" y="299.60" font-size="5.6" text-anchor="middle" fill="#1c1c1c" stroke="#1c1c1c" stroke-width="0.14">p=0.004</text>
<text x="496.00" y="299.60" font-size="5.6" text-anchor="middle" fill="#1c1c1c" stroke="#1c1c1c" stroke-width="0.14">p=0.030</text>
<circle cx="434.10" cy="338.40" r="1.95" fill="#111"/>
<circle cx="438.40" cy="338.40" r="1.95" fill="#111"/>
<circle cx="434.10" cy="345.30" r="1.95" fill="#111"/>
<circle cx="438.40" cy="347.00" r="1.95" fill="#111"/>
<circle cx="436.30" cy="342.50" r="1.95" fill="#111"/>
<line x1="430.20" y1="342.70" x2="444.80" y2="342.70" stroke="#111" stroke-width="1.4"/>
<line x1="433.90" y1="341.00" x2="441.10" y2="341.00" stroke="#111" stroke-width="1.2"/>
<line x1="433.90" y1="344.40" x2="441.10" y2="344.40" stroke="#111" stroke-width="1.2"/>
<line x1="437.50" y1="341.00" x2="437.50" y2="344.40" stroke="#111" stroke-width="1.2"/>
<path d="M460.40 340.65L462.35 344.45H458.45Z" fill="#111"/>
<path d="M456.00 344.95L457.95 348.75H454.05Z" fill="#111"/>
<path d="M464.20 344.95L466.15 348.75H462.25Z" fill="#111"/>
<path d="M460.40 349.25L462.35 353.05H458.45Z" fill="#111"/>
<line x1="453.10" y1="347.30" x2="467.70" y2="347.30" stroke="#111" stroke-width="1.4"/>
<line x1="456.80" y1="346.00" x2="464.00" y2="346.00" stroke="#111" stroke-width="1.2"/>
<line x1="456.80" y1="348.60" x2="464.00" y2="348.60" stroke="#111" stroke-width="1.2"/>
<line x1="460.40" y1="346.00" x2="460.40" y2="348.60" stroke="#111" stroke-width="1.2"/>
<circle cx="478.20" cy="333.20" r="1.75" fill="#fff" stroke="#111" stroke-width="1.1"/>
<circle cx="483.40" cy="330.60" r="1.75" fill="#fff" stroke="#111" stroke-width="1.1"/>
<circle cx="486.80" cy="333.20" r="1.75" fill="#fff" stroke="#111" stroke-width="1.1"/>
<circle cx="483.00" cy="337.50" r="1.75" fill="#fff" stroke="#111" stroke-width="1.1"/>
<circle cx="487.70" cy="337.50" r="1.75" fill="#fff" stroke="#111" stroke-width="1.1"/>
<line x1="475.70" y1="334.40" x2="490.30" y2="334.40" stroke="#111" stroke-width="1.4"/>
<line x1="479.40" y1="333.20" x2="486.60" y2="333.20" stroke="#111" stroke-width="1.2"/>
<line x1="479.40" y1="335.60" x2="486.60" y2="335.60" stroke="#111" stroke-width="1.2"/>
<line x1="483.00" y1="333.20" x2="483.00" y2="335.60" stroke="#111" stroke-width="1.2"/>
<rect x="499.75" y="319.25" width="3.50" height="3.50" fill="#fff" stroke="#111" stroke-width="1.1"/>
<rect x="504.15" y="321.05" width="3.50" height="3.50" fill="#fff" stroke="#111" stroke-width="1.1"/>
<rect x="498.95" y="328.85" width="3.50" height="3.50" fill="#fff" stroke="#111" stroke-width="1.1"/>
<rect x="503.25" y="329.65" width="3.50" height="3.50" fill="#fff" stroke="#111" stroke-width="1.1"/>
<rect x="507.95" y="328.85" width="3.50" height="3.50" fill="#fff" stroke="#111" stroke-width="1.1"/>
<line x1="498.10" y1="327.50" x2="512.70" y2="327.50" stroke="#111" stroke-width="1.4"/>
<line x1="501.80" y1="325.80" x2="509.00" y2="325.80" stroke="#111" stroke-width="1.2"/>
<line x1="501.80" y1="329.20" x2="509.00" y2="329.20" stroke="#111" stroke-width="1.2"/>
<line x1="505.40" y1="325.80" x2="505.40" y2="329.20" stroke="#111" stroke-width="1.2"/>
<text x="439.00" y="381.80" font-size="6.7" text-anchor="middle" fill="#1a1a1a" stroke="#1a1a1a" stroke-width="0.14">P+P</text>
<text x="461.80" y="381.80" font-size="6.7" text-anchor="middle" fill="#1a1a1a" stroke="#1a1a1a" stroke-width="0.14">Z+P</text>
<text x="484.00" y="381.80" font-size="6.7" text-anchor="middle" fill="#1a1a1a" stroke="#1a1a1a" stroke-width="0.14">P+E</text>
<text x="506.00" y="381.80" font-size="6.7" text-anchor="middle" fill="#1a1a1a" stroke="#1a1a1a" stroke-width="0.14">Z+E</text>
<text x="409.20" y="332.00" font-size="7.7" text-anchor="middle" fill="#222" stroke="#222" stroke-width="0.14" transform="rotate(-90 409.20 332.00)">MCV (fL)</text>
<text x="7.90" y="414.50" font-size="11.5" font-weight="bold" fill="#000">I</text>
<defs><clipPath id="fr"><rect x="25" y="419" width="303" height="225"/></clipPath></defs>
<g clip-path="url(#fr)">
<rect x="25" y="419" width="303" height="225" fill="#fff"/>
<path d="M24 538 L42 541 L52 560 L42 570 C48 590 60 608 93 628 C110 636 120 638 133 638 C150 638 168 636 184 631 C196 626 206 618 218 609 C226 604.5 232 603.5 240 603 L330 602 V650 H24 Z" fill="#f2ebc6"/>
<path d="M44 567 C50 588 64 606 94 623 C110 631 120 633.5 133 633.5 C150 633.5 168 631.5 182 627 C190 624 196 621 202 617" fill="none" stroke="#d9d9e1" stroke-width="9"/>
<path d="M232 603.2 L330 601.6" stroke="#ece8d6" stroke-width="1.6"/>
<path d="M284 419 L284 478 C286 495 298 504 315 506 L330 507 L330 419 Z" fill="#f2ebc6"/>
<g transform="translate(282.6 425.0) rotate(90.0)"><ellipse rx="8.0" ry="1.8" fill="#a9c3ea" stroke="#8eaee0" stroke-width="0.6"/><ellipse rx="3.0" ry="1.1" fill="#4b93d9"/></g>
<g transform="translate(292.0 494.0) rotate(52.0)"><ellipse rx="10.0" ry="2.4" fill="#a9c3ea" stroke="#8eaee0" stroke-width="0.6"/><ellipse rx="3.8" ry="1.5" fill="#4b93d9"/></g>
<g transform="translate(307.0 504.0) rotate(18.0)"><ellipse rx="9.0" ry="2.2" fill="#a9c3ea" stroke="#8eaee0" stroke-width="0.6"/><ellipse rx="3.4" ry="1.4" fill="#4b93d9"/></g>
<g transform="translate(322.0 506.5) rotate(2.0)"><ellipse rx="7.0" ry="2.0" fill="#a9c3ea" stroke="#8eaee0" stroke-width="0.6"/><ellipse rx="2.7" ry="1.2" fill="#4b93d9"/></g>
<path d="M24 519 C28 519.5 32 520.5 35 522.3 C39 524.5 41 527 43 530.3 C46 535 49 539 51.1 543 C53.5 547 55.5 550 55.7 553.4 C56.5 557 56.8 560 56.3 562.6 C55.5 566 53.5 568 51.1 567.8 C48.5 567.8 46.5 567.5 45.3 566 C44 564 43.8 561 43 559.1 C41.5 557 39 557 37.3 555.7 C35.5 554 35.8 552 35.6 550 C35.3 548 35 547.5 34.4 546.5 C33.5 545 32.5 544.5 31.5 544.2 C29.5 543.6 27 543 24 543 Z" fill="#a684c4"/>
<ellipse cx="35" cy="527.5" rx="3.2" ry="3.7" fill="#3f92d8" stroke="#2d62b8" stroke-width="0.9"/>
<ellipse cx="36.7" cy="536.7" rx="3.2" ry="3.7" fill="#3f92d8" stroke="#2d62b8" stroke-width="0.9"/>
<ellipse cx="45.3" cy="541.3" rx="3.2" ry="3.7" fill="#3f92d8" stroke="#2d62b8" stroke-width="0.9"/>
<ellipse cx="47.6" cy="552.2" rx="3.2" ry="3.7" fill="#3f92d8" stroke="#2d62b8" stroke-width="0.9"/>
<path d="M283 432 C286 432 290 433 290 436 C290 440 287 442 288 445 C290 447 293 448 292 451 C291 455 287 455 287.5 458 C288 461 293 462 292.5 465 C292 468 288 468 289 470.5 C290 472 292 473 291.5 476 C291 479 291 482 290 484 C287 486 280 486 276 482 C273 478 272.5 470 272.5 458 C272.5 447 273 440 276 436 C278 433 281 432 283 432 Z" fill="#a684c4"/>
<ellipse cx="281" cy="446.5" rx="3.2" ry="3.7" fill="#3f92d8" stroke="#2d62b8" stroke-width="0.9"/>
<ellipse cx="276.5" cy="457" rx="3.2" ry="3.7" fill="#3f92d8" stroke="#2d62b8" stroke-width="0.9"/>
<ellipse cx="282" cy="465" rx="3.2" ry="3.7" fill="#3f92d8" stroke="#2d62b8" stroke-width="0.9"/>
<ellipse cx="279" cy="474.5" rx="3.2" ry="3.7" fill="#3f92d8" stroke="#2d62b8" stroke-width="0.9"/>
<path d="M214 424 C214 414 226 410 238 412 C250 414 254 424 253 433 C252 444 242 449 231 449 C219 449 212 440 214 424 Z" fill="#d3e7f7"/>
<path d="M232.6 421.6L234.4 426.5L239.4 428.1L235.2 431.3L235.3 436.6L230.9 433.6L225.9 435.3L227.4 430.2L224.3 426.0L229.5 425.8Z" fill="#8dbde6" stroke="#8dbde6" stroke-width="3.2" stroke-linejoin="round"/>
<path d="M272 556 C274 546 288 543 300 544 C315 545 324 552 324 565 C324 580 316 591 298 592 C282 592 271 584 270 572 C269 565 270 560 272 556 Z" fill="#d3e7f7"/>
<path d="M295.4 556.6L299.4 562.5L306.5 563.0L302.1 568.7L303.9 575.7L297.1 573.2L291.0 577.0L291.3 569.8L285.7 565.2L292.7 563.2Z" fill="#8dbde6" stroke="#8dbde6" stroke-width="3.6" stroke-linejoin="round"/>
<circle cx="40.0" cy="416.0" r="10.4" fill="#cdcfe6"/>
<circle cx="40.0" cy="416.0" r="7.9" fill="#dadef3"/>
<circle cx="39.7" cy="415.3" r="5.7" fill="#b6dcf2"/>
<circle cx="39.7" cy="415.3" r="3.4" fill="#addaf1"/>
<circle cx="39.9" cy="442.9" r="10.4" fill="#cdcfe6"/>
<circle cx="39.9" cy="442.9" r="7.9" fill="#dadef3"/>
<circle cx="39.6" cy="442.2" r="5.7" fill="#b6dcf2"/>
<circle cx="39.6" cy="442.2" r="3.4" fill="#addaf1"/>
<circle cx="61.1" cy="457.1" r="10.4" fill="#cdcfe6"/>
<circle cx="61.1" cy="457.1" r="7.9" fill="#dadef3"/>
<circle cx="60.8" cy="456.4" r="5.7" fill="#b6dcf2"/>
<circle cx="60.8" cy="456.4" r="3.4" fill="#addaf1"/>
<circle cx="26.5" cy="463.9" r="10.4" fill="#cdcfe6"/>
<circle cx="26.5" cy="463.9" r="7.9" fill="#dadef3"/>
<circle cx="26.2" cy="463.2" r="5.7" fill="#b6dcf2"/>
<circle cx="26.2" cy="463.2" r="3.4" fill="#addaf1"/>
<circle cx="67.2" cy="480.2" r="10.4" fill="#cdcfe6"/>
<circle cx="67.2" cy="480.2" r="7.9" fill="#dadef3"/>
<circle cx="66.9" cy="479.5" r="5.7" fill="#b6dcf2"/>
<circle cx="66.9" cy="479.5" r="3.4" fill="#addaf1"/>
<circle cx="92.3" cy="477.1" r="10.4" fill="#cdcfe6"/>
<circle cx="92.3" cy="477.1" r="7.9" fill="#dadef3"/>
<circle cx="92.0" cy="476.4" r="5.7" fill="#b6dcf2"/>
<circle cx="92.0" cy="476.4" r="3.4" fill="#addaf1"/>
<circle cx="118.8" cy="477.6" r="10.4" fill="#cdcfe6"/>
<circle cx="118.8" cy="477.6" r="7.9" fill="#dadef3"/>
<circle cx="118.5" cy="476.9" r="5.7" fill="#b6dcf2"/>
<circle cx="118.5" cy="476.9" r="3.4" fill="#addaf1"/>
<circle cx="146.5" cy="481.2" r="10.4" fill="#cdcfe6"/>
<circle cx="146.5" cy="481.2" r="7.9" fill="#dadef3"/>
<circle cx="146.2" cy="480.5" r="5.7" fill="#b6dcf2"/>
<circle cx="146.2" cy="480.5" r="3.4" fill="#addaf1"/>
<circle cx="230.0" cy="463.0" r="10.4" fill="#cdcfe6"/>
<circle cx="230.0" cy="463.0" r="7.9" fill="#dadef3"/>
<circle cx="229.7" cy="462.3" r="5.7" fill="#b6dcf2"/>
<circle cx="229.7" cy="462.3" r="3.4" fill="#addaf1"/>
<circle cx="253.6" cy="452.7" r="10.4" fill="#cdcfe6"/>
<circle cx="253.6" cy="452.7" r="7.9" fill="#dadef3"/>
<circle cx="253.3" cy="452.0" r="5.7" fill="#b6dcf2"/>
<circle cx="253.3" cy="452.0" r="3.4" fill="#addaf1"/>
<circle cx="263.0" cy="491.0" r="10.4" fill="#cdcfe6"/>
<circle cx="263.0" cy="491.0" r="7.9" fill="#dadef3"/>
<circle cx="262.7" cy="490.3" r="5.7" fill="#b6dcf2"/>
<circle cx="262.7" cy="490.3" r="3.4" fill="#addaf1"/>
<circle cx="40.3" cy="489.5" r="10.4" fill="#cdcfe6"/>
<circle cx="40.3" cy="489.5" r="7.9" fill="#dadef3"/>
<circle cx="40.0" cy="488.8" r="5.7" fill="#b6dcf2"/>
<circle cx="40.0" cy="488.8" r="3.4" fill="#addaf1"/>
<circle cx="61.7" cy="507.4" r="10.4" fill="#cdcfe6"/>
<circle cx="61.7" cy="507.4" r="7.9" fill="#dadef3"/>
<circle cx="61.4" cy="506.7" r="5.7" fill="#b6dcf2"/>
<circle cx="61.4" cy="506.7" r="3.4" fill="#addaf1"/>
<circle cx="103.5" cy="508.4" r="10.4" fill="#cdcfe6"/>
<circle cx="103.5" cy="508.4" r="7.9" fill="#dadef3"/>
<circle cx="103.2" cy="507.7" r="5.7" fill="#b6dcf2"/>
<circle cx="103.2" cy="507.7" r="3.4" fill="#addaf1"/>
<circle cx="79.0" cy="524.7" r="10.4" fill="#cdcfe6"/>
<circle cx="79.0" cy="524.7" r="7.9" fill="#dadef3"/>
<circle cx="78.7" cy="524.0" r="5.7" fill="#b6dcf2"/>
<circle cx="78.7" cy="524.0" r="3.4" fill="#addaf1"/>
<circle cx="103.5" cy="537.0" r="10.4" fill="#cdcfe6"/>
<circle cx="103.5" cy="537.0" r="7.9" fill="#dadef3"/>
<circle cx="103.2" cy="536.3" r="5.7" fill="#b6dcf2"/>
<circle cx="103.2" cy="536.3" r="3.4" fill="#addaf1"/>
<circle cx="70.9" cy="547.2" r="10.4" fill="#cdcfe6"/>
<circle cx="70.9" cy="547.2" r="7.9" fill="#dadef3"/>
<circle cx="70.6" cy="546.5" r="5.7" fill="#b6dcf2"/>
<circle cx="70.6" cy="546.5" r="3.4" fill="#addaf1"/>
<circle cx="174.0" cy="539.0" r="10.4" fill="#cdcfe6"/>
<circle cx="174.0" cy="539.0" r="7.9" fill="#dadef3"/>
<circle cx="173.7" cy="538.3" r="5.7" fill="#b6dcf2"/>
<circle cx="173.7" cy="538.3" r="3.4" fill="#addaf1"/>
<circle cx="286.2" cy="512.5" r="10.4" fill="#cdcfe6"/>
<circle cx="286.2" cy="512.5" r="7.9" fill="#dadef3"/>
<circle cx="285.9" cy="511.8" r="5.7" fill="#b6dcf2"/>
<circle cx="285.9" cy="511.8" r="3.4" fill="#addaf1"/>
<circle cx="278.1" cy="535.0" r="10.4" fill="#cdcfe6"/>
<circle cx="278.1" cy="535.0" r="7.9" fill="#dadef3"/>
<circle cx="277.8" cy="534.3" r="5.7" fill="#b6dcf2"/>
<circle cx="277.8" cy="534.3" r="3.4" fill="#addaf1"/>
<circle cx="303.5" cy="532.0" r="10.4" fill="#cdcfe6"/>
<circle cx="303.5" cy="532.0" r="7.9" fill="#dadef3"/>
<circle cx="303.2" cy="531.3" r="5.7" fill="#b6dcf2"/>
<circle cx="303.2" cy="531.3" r="3.4" fill="#addaf1"/>
<circle cx="324.0" cy="525.4" r="10.4" fill="#cdcfe6"/>
<circle cx="324.0" cy="525.4" r="7.9" fill="#dadef3"/>
<circle cx="323.7" cy="524.7" r="5.7" fill="#b6dcf2"/>
<circle cx="323.7" cy="524.7" r="3.4" fill="#addaf1"/>
<circle cx="325.0" cy="549.5" r="10.4" fill="#cdcfe6"/>
<circle cx="325.0" cy="549.5" r="7.9" fill="#dadef3"/>
<circle cx="324.7" cy="548.8" r="5.7" fill="#b6dcf2"/>
<circle cx="324.7" cy="548.8" r="3.4" fill="#addaf1"/>
<circle cx="152.6" cy="582.2" r="10.4" fill="#cdcfe6"/>
<circle cx="152.6" cy="582.2" r="7.9" fill="#dadef3"/>
<circle cx="152.3" cy="581.5" r="5.7" fill="#b6dcf2"/>
<circle cx="152.3" cy="581.5" r="3.4" fill="#addaf1"/>
<circle cx="263.8" cy="433.3" r="8.2" fill="#cfd1ea"/>
<circle cx="263.8" cy="433.3" r="6.4" fill="#dfe2f4"/>
<g fill="#b4b6e0"><circle cx="261.6" cy="431.7" r="2.0"/><circle cx="265.8" cy="431.5" r="1.8"/><circle cx="263.8" cy="435.1" r="2.0"/></g>
<circle cx="81.5" cy="499.3" r="8.2" fill="#cfd1ea"/>
<circle cx="81.5" cy="499.3" r="6.4" fill="#dfe2f4"/>
<g fill="#b4b6e0"><circle cx="79.3" cy="497.7" r="2.0"/><circle cx="83.5" cy="497.5" r="1.8"/><circle cx="81.5" cy="501.1" r="2.0"/></g>
<circle cx="49.5" cy="525.8" r="8.2" fill="#cfd1ea"/>
<circle cx="49.5" cy="525.8" r="6.4" fill="#dfe2f4"/>
<g fill="#b4b6e0"><circle cx="47.3" cy="524.2" r="2.0"/><circle cx="51.5" cy="524.0" r="1.8"/><circle cx="49.5" cy="527.6" r="2.0"/></g>
<circle cx="152.6" cy="514.6" r="8.2" fill="#cfd1ea"/>
<circle cx="152.6" cy="514.6" r="6.4" fill="#dfe2f4"/>
<g fill="#b4b6e0"><circle cx="150.4" cy="513.0" r="2.0"/><circle cx="154.6" cy="512.8" r="1.8"/><circle cx="152.6" cy="516.4" r="2.0"/></g>
<circle cx="172.0" cy="507.4" r="8.2" fill="#cfd1ea"/>
<circle cx="172.0" cy="507.4" r="6.4" fill="#dfe2f4"/>
<g fill="#b4b6e0"><circle cx="169.8" cy="505.8" r="2.0"/><circle cx="174.0" cy="505.6" r="1.8"/><circle cx="172.0" cy="509.2" r="2.0"/></g>
<circle cx="89.2" cy="565.2" r="8.2" fill="#cfd1ea"/>
<circle cx="89.2" cy="565.2" r="6.4" fill="#dfe2f4"/>
<g fill="#b4b6e0"><circle cx="87.0" cy="563.6" r="2.0"/><circle cx="91.2" cy="563.4" r="1.8"/><circle cx="89.2" cy="567.0" r="2.0"/></g>
<circle cx="173.3" cy="420.5" r="8.2" fill="#cfd1ea"/>
<circle cx="173.3" cy="420.5" r="6.4" fill="#dfe2f4"/>
<g fill="#b4b6e0"><circle cx="171.1" cy="418.9" r="2.0"/><circle cx="175.3" cy="418.7" r="1.8"/><circle cx="173.3" cy="422.3" r="2.0"/></g>
<circle cx="196.3" cy="420.5" r="8.2" fill="#cfd1ea"/>
<circle cx="196.3" cy="420.5" r="6.4" fill="#dfe2f4"/>
<g fill="#b4b6e0"><circle cx="194.1" cy="418.9" r="2.0"/><circle cx="198.3" cy="418.7" r="1.8"/><circle cx="196.3" cy="422.3" r="2.0"/></g>
<circle cx="325.0" cy="584.0" r="8.2" fill="#cfd1ea"/>
<circle cx="325.0" cy="584.0" r="6.4" fill="#dfe2f4"/>
<g fill="#b4b6e0"><circle cx="322.8" cy="582.4" r="2.0"/><circle cx="327.0" cy="582.2" r="1.8"/><circle cx="325.0" cy="585.8" r="2.0"/></g>
<radialGradient id="dr1" cx="0.5" cy="0.5" r="0.5"><stop offset="0" stop-color="#8a3260"/><stop offset="0.35" stop-color="#9a2e4c"/><stop offset="0.8" stop-color="#b42a3c"/><stop offset="1" stop-color="#b8283a"/></radialGradient>
<circle cx="64.4" cy="431.2" r="9.6" fill="url(#dr1)"/>
<radialGradient id="dr2" cx="0.5" cy="0.5" r="0.5"><stop offset="0" stop-color="#8a3260"/><stop offset="0.35" stop-color="#9a2e4c"/><stop offset="0.8" stop-color="#b42a3c"/><stop offset="1" stop-color="#b8283a"/></radialGradient>
<circle cx="251.6" cy="512.5" r="9.4" fill="url(#dr2)"/>
<path d="M142.5 418 L149.5 424.5" stroke="#8a7fc8" stroke-width="1.6"/>
<path d="M74 445 C80 432 92 422 110 420 C140 418 175 426 205 436 C216 441 220 450 214 459 C205 468 180 469 150 466 C120 464 95 460 80 452 C76 450 74 448 74 445 Z" fill="#fdfdff" stroke="#b3c6ec" stroke-width="2.6"/>
<g transform="translate(80.0 434.0) rotate(-62.0)"><ellipse rx="11.0" ry="2.8" fill="#a9c3ea" stroke="#8eaee0" stroke-width="0.6"/><ellipse rx="4.2" ry="1.7" fill="#4b93d9"/></g>
<g transform="translate(98.0 424.0) rotate(-20.0)"><ellipse rx="11.0" ry="2.6" fill="#a9c3ea" stroke="#8eaee0" stroke-width="0.6"/><ellipse rx="4.2" ry="1.6" fill="#4b93d9"/></g>
<g transform="translate(118.0 421.0) rotate(-5.0)"><ellipse rx="10.0" ry="2.4" fill="#a9c3ea" stroke="#8eaee0" stroke-width="0.6"/><ellipse rx="3.8" ry="1.5" fill="#4b93d9"/></g>
<g transform="translate(148.0 428.5) rotate(18.0)"><ellipse rx="15.0" ry="3.0" fill="#a9c3ea" stroke="#8eaee0" stroke-width="0.6"/><ellipse rx="5.7" ry="1.9" fill="#4b93d9"/></g>
<g transform="translate(173.0 433.5) rotate(8.0)"><ellipse rx="9.5" ry="2.4" fill="#a9c3ea" stroke="#8eaee0" stroke-width="0.6"/><ellipse rx="3.6" ry="1.5" fill="#4b93d9"/></g>
<g transform="translate(198.0 437.5) rotate(12.0)"><ellipse rx="12.5" ry="2.8" fill="#a9c3ea" stroke="#8eaee0" stroke-width="0.6"/><ellipse rx="4.8" ry="1.7" fill="#4b93d9"/></g>
<g transform="translate(214.5 449.0) rotate(80.0)"><ellipse rx="7.0" ry="2.2" fill="#a9c3ea" stroke="#8eaee0" stroke-width="0.6"/><ellipse rx="2.7" ry="1.4" fill="#4b93d9"/></g>
<g transform="translate(208.0 463.5) rotate(-35.0)"><ellipse rx="7.0" ry="2.4" fill="#a9c3ea" stroke="#8eaee0" stroke-width="0.6"/><ellipse rx="2.7" ry="1.5" fill="#4b93d9"/></g>
<g transform="translate(189.5 468.0) rotate(0.0)"><ellipse rx="11.0" ry="2.6" fill="#a9c3ea" stroke="#8eaee0" stroke-width="0.6"/><ellipse rx="4.2" ry="1.6" fill="#4b93d9"/></g>
<g transform="translate(165.0 467.2) rotate(3.0)"><ellipse rx="12.0" ry="2.6" fill="#a9c3ea" stroke="#8eaee0" stroke-width="0.6"/><ellipse rx="4.6" ry="1.6" fill="#4b93d9"/></g>
<g transform="translate(137.0 464.0) rotate(5.0)"><ellipse rx="14.0" ry="2.8" fill="#a9c3ea" stroke="#8eaee0" stroke-width="0.6"/><ellipse rx="5.3" ry="1.7" fill="#4b93d9"/></g>
<g transform="translate(110.0 461.5) rotate(8.0)"><ellipse rx="10.0" ry="2.4" fill="#a9c3ea" stroke="#8eaee0" stroke-width="0.6"/><ellipse rx="3.8" ry="1.5" fill="#4b93d9"/></g>
<g transform="translate(88.0 455.0) rotate(28.0)"><ellipse rx="13.0" ry="2.8" fill="#a9c3ea" stroke="#8eaee0" stroke-width="0.6"/><ellipse rx="4.9" ry="1.7" fill="#4b93d9"/></g>
<circle cx="96.4" cy="437.4" r="4.2" fill="#d7202b"/>
<circle cx="110.6" cy="437.8" r="4.2" fill="#d7202b"/>
<circle cx="115.7" cy="429.2" r="4.2" fill="#d7202b"/>
<circle cx="124.9" cy="435.3" r="4.2" fill="#d7202b"/>
<circle cx="96.4" cy="449.0" r="4.2" fill="#d7202b"/>
<circle cx="107.2" cy="448.0" r="4.2" fill="#d7202b"/>
<circle cx="122.4" cy="445.9" r="4.2" fill="#d7202b"/>
<circle cx="116.7" cy="454.7" r="4.2" fill="#d7202b"/>
<circle cx="125.1" cy="435.3" r="4.2" fill="#d7202b"/>
<circle cx="133.2" cy="451.6" r="4.2" fill="#d7202b"/>
<circle cx="154.7" cy="459.8" r="4.2" fill="#d7202b"/>
<circle cx="166.5" cy="443.5" r="4.2" fill="#d7202b"/>
<circle cx="179.1" cy="445.5" r="4.2" fill="#d7202b"/>
<circle cx="166.5" cy="456.3" r="4.2" fill="#d7202b"/>
<circle cx="177.1" cy="460.4" r="4.2" fill="#d7202b"/>
<circle cx="123.0" cy="445.5" r="4.2" fill="#d7202b"/>
<path d="M84.8 442.2A2.0 2.0 0 0 1 88.8 442.2Z" fill="#c8202c"/>
<path d="M140.0 457.5A2.0 2.0 0 0 1 144.0 457.5Z" fill="#c8202c"/>
<path d="M206.7 457.5A2.0 2.0 0 0 1 210.7 457.5Z" fill="#c8202c"/>
<circle cx="147.5" cy="442" r="8.2" fill="#98a0da"/>
<circle cx="147.5" cy="442" r="5.4" fill="#4b98d8"/>
<circle cx="147.8" cy="441.6" r="2.8" fill="#62aee4"/>
<circle cx="196.4" cy="452.7" r="8.0" fill="#8088cc"/>
<circle cx="196.4" cy="452.7" r="6.2" fill="#9aa2da"/>
<g fill="#3f4fb0"><circle cx="194.2" cy="451.5" r="2.1"/><circle cx="198.5" cy="450.9" r="1.9"/><circle cx="196.6" cy="454.9" r="2.1"/></g>
<path d="M182 556 C186 544 200 537 220 534 C240 532 258 538 266 550 C270 560 264 570 250 574 C232 578 205 578 192 572 C184 568 181 562 182 556 Z" fill="#fdfdff" stroke="#bccdee" stroke-width="1.6"/>
<g transform="translate(205.5 538.5) rotate(-12.0)"><ellipse rx="12.0" ry="2.6" fill="#a9c3ea" stroke="#8eaee0" stroke-width="0.6"/><ellipse rx="4.6" ry="1.6" fill="#4b93d9"/></g>
<g transform="translate(229.0 535.5) rotate(3.0)"><ellipse rx="10.0" ry="2.5" fill="#a9c3ea" stroke="#8eaee0" stroke-width="0.6"/><ellipse rx="3.8" ry="1.6" fill="#4b93d9"/></g>
<g transform="translate(248.0 540.5) rotate(22.0)"><ellipse rx="10.0" ry="2.6" fill="#a9c3ea" stroke="#8eaee0" stroke-width="0.6"/><ellipse rx="3.8" ry="1.6" fill="#4b93d9"/></g>
<g transform="translate(264.9 557.3) rotate(-72.0)"><ellipse rx="9.0" ry="2.4" fill="#a9c3ea" stroke="#8eaee0" stroke-width="0.6"/><ellipse rx="3.4" ry="1.5" fill="#4b93d9"/></g>
<g transform="translate(252.7 570.2) rotate(-18.0)"><ellipse rx="11.0" ry="2.6" fill="#a9c3ea" stroke="#8eaee0" stroke-width="0.6"/><ellipse rx="4.2" ry="1.6" fill="#4b93d9"/></g>
<g transform="translate(227.0 575.3) rotate(0.0)"><ellipse rx="11.0" ry="2.6" fill="#a9c3ea" stroke="#8eaee0" stroke-width="0.6"/><ellipse rx="4.2" ry="1.6" fill="#4b93d9"/></g>
<g transform="translate(206.5 572.0) rotate(16.0)"><ellipse rx="9.0" ry="2.4" fill="#a9c3ea" stroke="#8eaee0" stroke-width="0.6"/><ellipse rx="3.4" ry="1.5" fill="#4b93d9"/></g>
<g transform="translate(183.5 556.0) rotate(-82.0)"><ellipse rx="9.0" ry="2.4" fill="#a9c3ea" stroke="#8eaee0" stroke-width="0.6"/><ellipse rx="3.4" ry="1.5" fill="#4b93d9"/></g>
<g transform="translate(190.0 545.5) rotate(-48.0)"><ellipse rx="6.0" ry="2.2" fill="#a9c3ea" stroke="#8eaee0" stroke-width="0.6"/><ellipse rx="2.3" ry="1.4" fill="#4b93d9"/></g>
<circle cx="213.0" cy="550.0" r="4.2" fill="#d7202b"/>
<circle cx="225.7" cy="550.0" r="4.2" fill="#d7202b"/>
<circle cx="233.8" cy="542.5" r="4.2" fill="#d7202b"/>
<circle cx="244.3" cy="547.8" r="4.2" fill="#d7202b"/>
<circle cx="213.5" cy="561.5" r="4.2" fill="#d7202b"/>
<circle cx="240.1" cy="559.4" r="4.2" fill="#d7202b"/>
<circle cx="253.2" cy="558.3" r="4.2" fill="#d7202b"/>
<circle cx="232.5" cy="567.9" r="4.2" fill="#d7202b"/>
<path d="M222.7 561.3A2.0 2.0 0 0 1 226.7 561.3Z" fill="#c8202c"/>
<path d="M249.0 550.7A2.0 2.0 0 0 1 253.0 550.7Z" fill="#c8202c"/>
<path d="M215.3 533.8A2.0 2.0 0 0 1 219.3 533.8Z" fill="#c8202c"/>
<path d="M221.6 525.3A2.0 2.0 0 0 1 225.6 525.3Z" fill="#c8202c"/>
<circle cx="199.3" cy="555.4" r="8.0" fill="#8088cc"/>
<circle cx="199.3" cy="555.4" r="6.2" fill="#9aa2da"/>
<g fill="#3f4fb0"><circle cx="197.1" cy="554.2" r="2.1"/><circle cx="201.4" cy="553.6" r="1.9"/><circle cx="199.5" cy="557.6" r="2.1"/></g>
<path d="M221 532.5 C228 531.5 234 529.5 238 527 C242 524 248 522.5 254 523.5 C260 525 263 529 265 533 C268 539 272 545 275 552 C270 548 266 543 262 539 C258 536 252 535.5 246 535 C240 534.5 234 533.5 221 533.8 Z" fill="#9ba1db" stroke="#8189cc" stroke-width="0.7"/>
<ellipse cx="251" cy="528.3" rx="5.6" ry="2.5" fill="#4599dc" transform="rotate(12 251 528.3)"/>
<path d="M143 530.5 C149 529 152 533 151.5 538 C155 539 159 541 161.5 546 C158 545 153 543 149.5 544 C145 547 139 551 134 557 C135 550 137 543 138 537 C138.5 533.5 140.5 531 143 530.5 Z" fill="#a2a8de" stroke="#8a90cc" stroke-width="0.8"/>
<ellipse cx="144.5" cy="537.5" rx="3.4" ry="4.0" fill="#48a6e2" stroke="#6f8fd6" stroke-width="0.8"/>
<ellipse cx="106" cy="588.5" rx="23" ry="3.8" fill="#8c84d2" transform="rotate(30 106 588.5)"/>
<ellipse cx="151.6" cy="599" rx="23" ry="3.6" fill="#8c84d2"/>
<ellipse cx="151.6" cy="599" rx="8" ry="2.2" fill="#5a7ed2"/>
<g transform="translate(61.5 575.5) rotate(48.0)"><rect x="-9.8" y="-7.5" width="19.5" height="15.0" rx="3" fill="#9bbbea" stroke="#82a5de" stroke-width="1"/><ellipse rx="5.7" ry="4.5" fill="#3fa2e2" stroke="#2f74c6" stroke-width="0.9"/></g>
<g transform="translate(79.8 592.8) rotate(37.0)"><rect x="-11.0" y="-8.8" width="22.0" height="17.5" rx="3" fill="#9bbbea" stroke="#82a5de" stroke-width="1"/><ellipse rx="6.4" ry="5.2" fill="#3fa2e2" stroke="#2f74c6" stroke-width="0.9"/></g>
<g transform="translate(104.5 605.7) rotate(20.0)"><rect x="-13.5" y="-11.0" width="27.0" height="22.0" rx="3" fill="#9bbbea" stroke="#82a5de" stroke-width="1"/><ellipse rx="7.8" ry="6.6" fill="#3fa2e2" stroke="#2f74c6" stroke-width="0.9"/></g>
<g transform="translate(136.2 618.2) rotate(3.0)"><rect x="-14.8" y="-11.5" width="29.5" height="23.0" rx="3" fill="#9bbbea" stroke="#82a5de" stroke-width="1"/><ellipse rx="8.6" ry="6.9" fill="#3fa2e2" stroke="#2f74c6" stroke-width="0.9"/></g>
<g transform="translate(170.2 614.6) rotate(-12.0)"><rect x="-14.5" y="-11.0" width="29.0" height="22.0" rx="3" fill="#9bbbea" stroke="#82a5de" stroke-width="1"/><ellipse rx="8.4" ry="6.6" fill="#3fa2e2" stroke="#2f74c6" stroke-width="0.9"/></g>
<g transform="translate(198.5 602.0) rotate(-18.0)"><rect x="-14.5" y="-11.0" width="29.0" height="22.0" rx="3" fill="#9bbbea" stroke="#82a5de" stroke-width="1"/><ellipse rx="8.4" ry="6.6" fill="#3fa2e2" stroke="#2f74c6" stroke-width="0.9"/></g>
<g transform="translate(227.0 593.8) rotate(-6.0)"><rect x="-12.0" y="-9.0" width="24.0" height="18.0" rx="3" fill="#9bbbea" stroke="#82a5de" stroke-width="1"/><ellipse rx="7.0" ry="5.4" fill="#3fa2e2" stroke="#2f74c6" stroke-width="0.9"/></g>
<g transform="translate(251.0 593.3) rotate(0.0)"><rect x="-9.5" y="-7.5" width="19.0" height="15.0" rx="3" fill="#9bbbea" stroke="#82a5de" stroke-width="1"/><ellipse rx="5.5" ry="4.5" fill="#3fa2e2" stroke="#2f74c6" stroke-width="0.9"/></g>
<g transform="translate(272.7 595.6) rotate(0.0)"><rect x="-10.0" y="-5.0" width="20.0" height="10.0" rx="3" fill="#9bbbea" stroke="#82a5de" stroke-width="1"/><ellipse rx="5.8" ry="3.0" fill="#3fa2e2" stroke="#2f74c6" stroke-width="0.9"/></g>
<g transform="translate(305.6 598.0) rotate(0.0)"><ellipse rx="21.4" ry="3.0" fill="#a9c3ea" stroke="#8eaee0" stroke-width="0.6"/><ellipse rx="8.1" ry="1.9" fill="#4b93d9"/></g>
<circle cx="128.4" cy="500.2" r="10.6" fill="#c56f79" stroke="#b35964" stroke-width="0.9"/>
<circle cx="128.4" cy="500.2" r="7.8" fill="#d9a9b3"/>
<circle cx="128.4" cy="500.2" r="5.0" fill="#45a3e0" stroke="#2f7cc4" stroke-width="0.8"/>
<circle cx="126.0" cy="521.6" r="10.6" fill="#c56f79" stroke="#b35964" stroke-width="0.9"/>
<circle cx="126.0" cy="521.6" r="7.8" fill="#d9a9b3"/>
<circle cx="126.0" cy="521.6" r="5.0" fill="#45a3e0" stroke="#2f7cc4" stroke-width="0.8"/>
<circle cx="191.3" cy="498.2" r="10.6" fill="#c56f79" stroke="#b35964" stroke-width="0.9"/>
<circle cx="191.3" cy="498.2" r="7.8" fill="#d9a9b3"/>
<circle cx="191.3" cy="498.2" r="5.0" fill="#45a3e0" stroke="#2f7cc4" stroke-width="0.8"/>
<circle cx="211.4" cy="507.4" r="10.6" fill="#c56f79" stroke="#b35964" stroke-width="0.9"/>
<circle cx="211.4" cy="507.4" r="7.8" fill="#d9a9b3"/>
<circle cx="211.4" cy="507.4" r="5.0" fill="#45a3e0" stroke="#2f7cc4" stroke-width="0.8"/>
<circle cx="192.2" cy="523.4" r="10.6" fill="#c56f79" stroke="#b35964" stroke-width="0.9"/>
<circle cx="192.2" cy="523.4" r="7.8" fill="#d9a9b3"/>
<circle cx="192.2" cy="523.4" r="5.0" fill="#45a3e0" stroke="#2f7cc4" stroke-width="0.8"/>
<circle cx="211.2" cy="484.4" r="10.6" fill="#c56f79" stroke="#b35964" stroke-width="0.9"/>
<circle cx="211.2" cy="484.4" r="7.8" fill="#d9a9b3"/>
<circle cx="211.2" cy="484.4" r="5.0" fill="#45a3e0" stroke="#2f7cc4" stroke-width="0.8"/>
<path d="M128.4 488.0m0 -2.0l2.0 3.2h-4.0z" fill="#7d828c" transform="rotate(180 128.4 488.0)"/>
<path d="M140.5 500.2m0 -2.0l2.0 3.2h-4.0z" fill="#7d828c" transform="rotate(90 140.5 500.2)"/>
<path d="M116.5 509.5m0 -2.0l2.0 3.2h-4.0z" fill="#7d828c" transform="rotate(-45 116.5 509.5)"/>
<path d="M137.5 512.5m0 -2.0l2.0 3.2h-4.0z" fill="#7d828c" transform="rotate(45 137.5 512.5)"/>
<path d="M126.0 533.5m0 -2.0l2.0 3.2h-4.0z" fill="#7d828c" transform="rotate(0 126.0 533.5)"/>
<path d="M191.3 486.0m0 -2.0l2.0 3.2h-4.0z" fill="#7d828c" transform="rotate(180 191.3 486.0)"/>
<path d="M180.0 491.0m0 -2.0l2.0 3.2h-4.0z" fill="#7d828c" transform="rotate(-45 180.0 491.0)"/>
<path d="M191.3 510.5m0 -2.0l2.0 3.2h-4.0z" fill="#7d828c" transform="rotate(0 191.3 510.5)"/>
<path d="M211.4 519.6m0 -2.0l2.0 3.2h-4.0z" fill="#7d828c" transform="rotate(0 211.4 519.6)"/>
<path d="M200.4 477.5m0 -2.0l2.0 3.2h-4.0z" fill="#7d828c" transform="rotate(0 200.4 477.5)"/>
<path d="M222.6 477.5m0 -2.0l2.0 3.2h-4.0z" fill="#7d828c" transform="rotate(0 222.6 477.5)"/>
<path d="M192.2 535.6m0 -2.0l2.0 3.2h-4.0z" fill="#7d828c" transform="rotate(0 192.2 535.6)"/>
<path d="M223.0 500.0m0 -2.0l2.0 3.2h-4.0z" fill="#7d828c" transform="rotate(90 223.0 500.0)"/>
<g transform="translate(140.6 521.8) rotate(0)"><line x1="-7" y1="0" x2="-1.5" y2="0" stroke="#111" stroke-width="1.1"/><ellipse cx="0" cy="0" rx="2.6" ry="2.0" fill="#111"/><ellipse cx="2.2" cy="0" rx="2.4" ry="2.0" fill="#c8202c"/></g>
<g transform="translate(206.5 524.6) rotate(0)"><line x1="-7" y1="0" x2="-1.5" y2="0" stroke="#111" stroke-width="1.1"/><ellipse cx="0" cy="0" rx="2.6" ry="2.0" fill="#111"/><ellipse cx="2.2" cy="0" rx="2.4" ry="2.0" fill="#c8202c"/></g>
<g transform="translate(226.2 508.2) rotate(0)"><line x1="-7" y1="0" x2="-1.5" y2="0" stroke="#111" stroke-width="1.1"/><ellipse cx="0" cy="0" rx="2.6" ry="2.0" fill="#111"/><ellipse cx="2.2" cy="0" rx="2.4" ry="2.0" fill="#c8202c"/></g>
<path d="M143.2 497.8A2.3 2.3 0 0 1 143.2 502.4Z" fill="#c8202c"/>
<path d="M163.0 523.8A2.0 2.0 0 0 1 167.0 523.8Z" fill="#c8202c"/>
<path d="M222.5 526.8A2.0 2.0 0 0 1 226.5 526.8Z" fill="#c8202c"/>
<path d="M215.5 534.3A2.0 2.0 0 0 1 219.5 534.3Z" fill="#c8202c"/>
<radialGradient id="gc1" cx="0.5" cy="0.5" r="0.5"><stop offset="0" stop-color="#5eb0a6"/><stop offset="0.45" stop-color="#5eb0a6"/><stop offset="0.75" stop-color="#68bc72"/><stop offset="1" stop-color="#6ec24e"/></radialGradient>
<circle cx="112.8" cy="576.5" r="11.2" fill="url(#gc1)"/>
<radialGradient id="gc2" cx="0.5" cy="0.5" r="0.5"><stop offset="0" stop-color="#43a69c"/><stop offset="0.45" stop-color="#43a69c"/><stop offset="0.75" stop-color="#48a870"/><stop offset="1" stop-color="#45a448"/></radialGradient>
<circle cx="147.5" cy="557.8" r="11.0" fill="url(#gc2)"/>
<radialGradient id="gc3" cx="0.5" cy="0.5" r="0.5"><stop offset="0" stop-color="#3a9e92"/><stop offset="0.45" stop-color="#3a9e92"/><stop offset="0.75" stop-color="#2f8a52"/><stop offset="1" stop-color="#2a6e34"/></radialGradient>
<circle cx="185.6" cy="570.3" r="10.8" fill="url(#gc3)"/>
<line x1="225.0" y1="497.5" x2="233.0" y2="491.8" stroke="#111" stroke-width="1.2"/>
<path d="M235.6 490.0L233.9 493.2L232.1 490.5Z" fill="#111"/>
<line x1="240.4" y1="485.2" x2="247.8" y2="480.3" stroke="#111" stroke-width="1.2"/>
<path d="M250.5 478.5L248.7 481.6L246.9 478.9Z" fill="#111"/>
<line x1="254.6" y1="474.0" x2="263.1" y2="468.6" stroke="#111" stroke-width="1.2"/>
<path d="M265.8 466.9L264.0 470.0L262.2 467.3Z" fill="#111"/>
<line x1="126.1" y1="570.3" x2="133.6" y2="564.5" stroke="#666" stroke-width="0.6"/>
<path d="M135.3 563.2L134.2 565.4L132.9 563.7Z" fill="#666"/>
<line x1="159.7" y1="561.2" x2="169.9" y2="564.5" stroke="#333" stroke-width="0.6"/>
<path d="M172.0 565.2L169.6 565.6L170.2 563.5Z" fill="#333"/>
<line x1="127" y1="539.2" x2="127" y2="558.5" stroke="#111" stroke-width="1.9" stroke-dasharray="1.9 3.5"/>
<line x1="123.5" y1="560.5" x2="130.3" y2="560.5" stroke="#111" stroke-width="1.3"/>
<text x="160.00" y="498.40" font-size="8.4" font-weight="bold" fill="#111">1</text>
<text x="240.20" y="498.40" font-size="8.4" font-weight="bold" fill="#111">2</text>
<text x="111.40" y="556.40" font-size="8.4" font-weight="bold" fill="#111">3</text>
<text x="163.20" y="482.80" font-size="4.6" fill="#1c1c1c">Erythroblasts</text>
<text x="225.60" y="479.60" font-size="4.6" fill="#1c1c1c">Epo-R</text>
<text x="167.40" y="524.60" font-size="4.6" fill="#c02030">Epo</text>
<text x="292.40" y="460.40" font-size="4.6" fill="#1c1c1c">Osteoclast</text>
<text x="155.60" y="572.00" font-size="4.8" fill="#1c1c1c">Pro B</text>
<text x="191.50" y="584.20" font-size="4.8" fill="#1c1c1c">Pre B</text>
<text x="115.50" y="590.20" font-size="4.8" fill="#1c1c1c">Pro-Pro B</text>
</g>
<rect x="24.7" y="418.4" width="303.2" height="225.9" fill="none" stroke="#46483f" stroke-width="2.1"/>
</svg>
</body></html>
